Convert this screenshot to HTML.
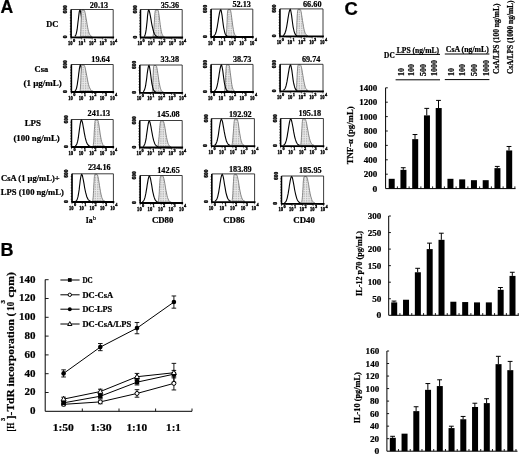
<!DOCTYPE html>
<html><head><meta charset="utf-8"><style>
html,body{margin:0;padding:0;background:#fff;}
svg{display:block;filter:grayscale(1);}
text{stroke:#000;stroke-width:0.22px;}
text.sm{stroke-width:0.38px;}
</style></head><body>
<svg width="520" height="456" viewBox="0 0 520 456">
<defs><pattern id="gp" patternUnits="userSpaceOnUse" width="1.7" height="2.3"><rect width="1.7" height="2.3" fill="#e9e9e9"/><rect x="0" y="0" width="0.7" height="1.5" fill="#aaaaaa"/></pattern></defs>
<rect width="520" height="456" fill="#fff"/>
<text x="0.6" y="13.2" font-family='"Liberation Sans", sans-serif' font-weight="bold" font-size="17.6" >A</text>
<text x="0.6" y="256" font-family='"Liberation Sans", sans-serif' font-weight="bold" font-size="18">B</text>
<text x="344.6" y="14.6" font-family='"Liberation Sans", sans-serif' font-weight="bold" font-size="18.4">C</text>
<path d="M74.8,36.3 L75.1,36.1 L75.4,35.7 L75.8,35.1 L76.1,34.2 L76.4,33.1 L76.7,31.6 L77.1,29.7 L77.4,27.4 L77.7,24.8 L78.0,22.0 L78.4,19.0 L78.7,16.2 L79.0,13.7 L79.3,11.7 L79.7,10.4 L80.0,10.0 L80.0,10.0 L80.4,11.0 L80.8,13.2 L81.3,16.1 L81.7,19.3 L82.1,22.5 L82.5,25.5 L82.9,28.1 L83.4,30.3 L83.8,32.1 L84.2,33.5 L84.6,34.5 L85.0,35.2 L85.5,35.8 L85.9,36.1 L86.3,36.3 L86.7,36.5" fill="none" stroke="#000" stroke-width="1.1"/>
<path d="M80.2,36.4 L80.4,36.1 L80.5,35.5 L80.6,34.6 L80.7,33.2 L80.8,31.3 L80.9,28.9 L81.0,26.0 L81.1,22.8 L81.2,19.7 L81.3,16.8 L81.5,14.3 L81.6,12.4 L81.7,11.1 L81.8,10.4 L81.9,10.1 L82.0,10.0 L84.0,10.0 L84.5,10.7 L85.0,12.4 L85.5,15.0 L86.0,18.0 L86.6,21.2 L87.1,24.3 L87.6,27.2 L88.1,29.6 L88.6,31.6 L89.1,33.2 L89.6,34.3 L90.1,35.2 L90.6,35.7 L91.1,36.1 L91.7,36.4 L92.2,36.5 Z" fill="url(#gp)" stroke="#7a7a7a" stroke-width="0.9"/>
<path d="M71.1,37.3 V9.5 H113.2 V37.3" fill="none" stroke="#1a1a1a" stroke-width="0.85"/>
<line x1="70.5" y1="37.3" x2="114.1" y2="37.3" stroke="#000" stroke-width="1.8"/>
<line x1="71.1" y1="9.5" x2="71.1" y2="37.3" stroke="#000" stroke-width="1.5"/>
<path d="M74.3,37.3 v1 M76.1,37.3 v1 M77.4,37.3 v1 M78.5,37.3 v1 M79.3,37.3 v1 M80.0,37.3 v1 M80.6,37.3 v1 M81.1,37.3 v1 M84.8,37.3 v1 M86.6,37.3 v1 M88.0,37.3 v1 M89.0,37.3 v1 M89.8,37.3 v1 M90.5,37.3 v1 M91.1,37.3 v1 M91.7,37.3 v1 M95.3,37.3 v1 M97.2,37.3 v1 M98.5,37.3 v1 M99.5,37.3 v1 M100.3,37.3 v1 M101.0,37.3 v1 M101.7,37.3 v1 M102.2,37.3 v1 M105.8,37.3 v1 M107.7,37.3 v1 M109.0,37.3 v1 M110.0,37.3 v1 M110.9,37.3 v1 M111.6,37.3 v1 M112.2,37.3 v1 M112.7,37.3 v1 M71.1,37.3 v2.2 M81.6,37.3 v2.2 M92.2,37.3 v2.2 M102.7,37.3 v2.2 M113.2,37.3 v2.2" stroke="#000" stroke-width="0.6"/>
<path d="M71.1,34.5 h-1.3 M71.1,31.7 h-1.3 M71.1,29.0 h-1.3 M71.1,26.2 h-1.3 M71.1,23.4 h-1.3 M71.1,20.6 h-1.3 M71.1,17.8 h-1.3 M71.1,15.1 h-1.3 M71.1,12.3 h-1.3" stroke="#000" stroke-width="0.6"/>
<text x="67.2" y="9.3" font-family='"Liberation Serif", serif' font-weight="bold" font-size="6.6" fill="#000" text-anchor="middle" textLength="8.2" lengthAdjust="spacingAndGlyphs" transform="rotate(-90 67.2 9.3)" class="sm">600</text>
<text x="67.1" y="36.8" font-family='"Liberation Serif", serif' font-weight="bold" font-size="5.5" fill="#000" text-anchor="middle" transform="rotate(-90 67.1 36.8)" class="sm">0</text>
<text x="72.6" y="44.8" font-family='"Liberation Serif", serif' font-weight="bold" font-size="6.0" fill="#000" text-anchor="end" textLength="4.6" lengthAdjust="spacingAndGlyphs" class="sm">10</text>
<text x="73" y="41.5" font-family='"Liberation Serif", serif' font-weight="bold" font-size="5.0" fill="#000" textLength="2.2" lengthAdjust="spacingAndGlyphs" class="sm">0</text>
<text x="83.12" y="44.8" font-family='"Liberation Serif", serif' font-weight="bold" font-size="6.0" fill="#000" text-anchor="end" textLength="4.6" lengthAdjust="spacingAndGlyphs" class="sm">10</text>
<text x="83.53" y="41.5" font-family='"Liberation Serif", serif' font-weight="bold" font-size="5.0" fill="#000" textLength="2.2" lengthAdjust="spacingAndGlyphs" class="sm">1</text>
<text x="93.65" y="44.8" font-family='"Liberation Serif", serif' font-weight="bold" font-size="6.0" fill="#000" text-anchor="end" textLength="4.6" lengthAdjust="spacingAndGlyphs" class="sm">10</text>
<text x="94.05" y="41.5" font-family='"Liberation Serif", serif' font-weight="bold" font-size="5.0" fill="#000" textLength="2.2" lengthAdjust="spacingAndGlyphs" class="sm">2</text>
<text x="104.17" y="44.8" font-family='"Liberation Serif", serif' font-weight="bold" font-size="6.0" fill="#000" text-anchor="end" textLength="4.6" lengthAdjust="spacingAndGlyphs" class="sm">10</text>
<text x="104.58" y="41.5" font-family='"Liberation Serif", serif' font-weight="bold" font-size="5.0" fill="#000" textLength="2.2" lengthAdjust="spacingAndGlyphs" class="sm">3</text>
<text x="114.7" y="44.8" font-family='"Liberation Serif", serif' font-weight="bold" font-size="6.0" fill="#000" text-anchor="end" textLength="4.6" lengthAdjust="spacingAndGlyphs" class="sm">10</text>
<text x="115.1" y="41.5" font-family='"Liberation Serif", serif' font-weight="bold" font-size="5.0" fill="#000" textLength="2.2" lengthAdjust="spacingAndGlyphs" class="sm">4</text>
<text x="108.2" y="7.5" font-family='"Liberation Serif", serif' font-weight="bold" font-size="9.0" fill="#000" text-anchor="end" textLength="18.5" lengthAdjust="spacingAndGlyphs" >20.13</text>
<path d="M152.7,36.6 L152.9,36.3 L153.1,35.7 L153.3,34.8 L153.5,33.4 L153.7,31.5 L153.9,29.0 L154.1,26.1 L154.3,22.9 L154.5,19.8 L154.6,16.8 L154.8,14.3 L155.0,12.4 L155.2,11.1 L155.4,10.4 L155.6,10.1 L155.8,10.0 L157.8,10.0 L158.2,10.7 L158.6,12.4 L159.0,15.0 L159.4,18.0 L159.8,21.3 L160.2,24.4 L160.6,27.3 L161.0,29.8 L161.4,31.8 L161.8,33.4 L162.3,34.5 L162.7,35.4 L163.1,35.9 L163.5,36.3 L163.9,36.6 L164.3,36.7 Z" fill="url(#gp)" stroke="#7a7a7a" stroke-width="0.9"/>
<path d="M144.1,36.5 L144.4,36.2 L144.7,35.8 L144.9,35.3 L145.2,34.4 L145.5,33.3 L145.8,31.8 L146.1,29.9 L146.4,27.6 L146.7,24.9 L147.0,22.1 L147.3,19.1 L147.5,16.3 L147.8,13.7 L148.1,11.7 L148.4,10.4 L148.7,10.0 L148.7,10.0 L149.3,11.0 L149.8,13.2 L150.4,16.1 L151.0,19.3 L151.5,22.6 L152.1,25.6 L152.7,28.2 L153.3,30.5 L153.8,32.3 L154.4,33.7 L155.0,34.7 L155.5,35.4 L156.1,36.0 L156.7,36.3 L157.2,36.5 L157.8,36.7" fill="none" stroke="#000" stroke-width="1.1"/>
<path d="M140.5,37.5 V9.5 H182.2 V37.5" fill="none" stroke="#1a1a1a" stroke-width="0.85"/>
<line x1="139.9" y1="37.5" x2="183.1" y2="37.5" stroke="#000" stroke-width="1.8"/>
<line x1="140.5" y1="9.5" x2="140.5" y2="37.5" stroke="#000" stroke-width="1.5"/>
<path d="M143.6,37.5 v1 M145.5,37.5 v1 M146.8,37.5 v1 M147.8,37.5 v1 M148.6,37.5 v1 M149.3,37.5 v1 M149.9,37.5 v1 M150.4,37.5 v1 M154.1,37.5 v1 M155.9,37.5 v1 M157.2,37.5 v1 M158.2,37.5 v1 M159.0,37.5 v1 M159.7,37.5 v1 M160.3,37.5 v1 M160.9,37.5 v1 M164.5,37.5 v1 M166.3,37.5 v1 M167.6,37.5 v1 M168.6,37.5 v1 M169.5,37.5 v1 M170.2,37.5 v1 M170.8,37.5 v1 M171.3,37.5 v1 M174.9,37.5 v1 M176.7,37.5 v1 M178.1,37.5 v1 M179.1,37.5 v1 M179.9,37.5 v1 M180.6,37.5 v1 M181.2,37.5 v1 M181.7,37.5 v1 M140.5,37.5 v2.2 M150.9,37.5 v2.2 M161.3,37.5 v2.2 M171.8,37.5 v2.2 M182.2,37.5 v2.2" stroke="#000" stroke-width="0.6"/>
<path d="M140.5,34.7 h-1.3 M140.5,31.9 h-1.3 M140.5,29.1 h-1.3 M140.5,26.3 h-1.3 M140.5,23.5 h-1.3 M140.5,20.7 h-1.3 M140.5,17.9 h-1.3 M140.5,15.1 h-1.3 M140.5,12.3 h-1.3" stroke="#000" stroke-width="0.6"/>
<text x="136.6" y="9.3" font-family='"Liberation Serif", serif' font-weight="bold" font-size="6.6" fill="#000" text-anchor="middle" textLength="8.2" lengthAdjust="spacingAndGlyphs" transform="rotate(-90 136.6 9.3)" class="sm">600</text>
<text x="136.5" y="37" font-family='"Liberation Serif", serif' font-weight="bold" font-size="5.5" fill="#000" text-anchor="middle" transform="rotate(-90 136.5 37)" class="sm">0</text>
<text x="142" y="45" font-family='"Liberation Serif", serif' font-weight="bold" font-size="6.0" fill="#000" text-anchor="end" textLength="4.6" lengthAdjust="spacingAndGlyphs" class="sm">10</text>
<text x="142.4" y="41.7" font-family='"Liberation Serif", serif' font-weight="bold" font-size="5.0" fill="#000" textLength="2.2" lengthAdjust="spacingAndGlyphs" class="sm">0</text>
<text x="152.43" y="45" font-family='"Liberation Serif", serif' font-weight="bold" font-size="6.0" fill="#000" text-anchor="end" textLength="4.6" lengthAdjust="spacingAndGlyphs" class="sm">10</text>
<text x="152.83" y="41.7" font-family='"Liberation Serif", serif' font-weight="bold" font-size="5.0" fill="#000" textLength="2.2" lengthAdjust="spacingAndGlyphs" class="sm">1</text>
<text x="162.85" y="45" font-family='"Liberation Serif", serif' font-weight="bold" font-size="6.0" fill="#000" text-anchor="end" textLength="4.6" lengthAdjust="spacingAndGlyphs" class="sm">10</text>
<text x="163.25" y="41.7" font-family='"Liberation Serif", serif' font-weight="bold" font-size="5.0" fill="#000" textLength="2.2" lengthAdjust="spacingAndGlyphs" class="sm">2</text>
<text x="173.27" y="45" font-family='"Liberation Serif", serif' font-weight="bold" font-size="6.0" fill="#000" text-anchor="end" textLength="4.6" lengthAdjust="spacingAndGlyphs" class="sm">10</text>
<text x="173.67" y="41.7" font-family='"Liberation Serif", serif' font-weight="bold" font-size="5.0" fill="#000" textLength="2.2" lengthAdjust="spacingAndGlyphs" class="sm">3</text>
<text x="183.7" y="45" font-family='"Liberation Serif", serif' font-weight="bold" font-size="6.0" fill="#000" text-anchor="end" textLength="4.6" lengthAdjust="spacingAndGlyphs" class="sm">10</text>
<text x="184.1" y="41.7" font-family='"Liberation Serif", serif' font-weight="bold" font-size="5.0" fill="#000" textLength="2.2" lengthAdjust="spacingAndGlyphs" class="sm">4</text>
<text x="179.2" y="7.5" font-family='"Liberation Serif", serif' font-weight="bold" font-size="9.0" fill="#000" text-anchor="end" textLength="18.5" lengthAdjust="spacingAndGlyphs" >35.36</text>
<path d="M226.0,36.1 L226.1,35.8 L226.3,35.2 L226.4,34.3 L226.5,32.9 L226.7,31.0 L226.8,28.5 L226.9,25.6 L227.1,22.5 L227.2,19.3 L227.3,16.4 L227.4,13.9 L227.6,12.0 L227.7,10.7 L227.8,10.0 L228.0,9.7 L228.1,9.6 L230.1,9.6 L230.5,10.3 L230.9,12.0 L231.3,14.6 L231.7,17.6 L232.1,20.8 L232.5,24.0 L232.9,26.8 L233.3,29.3 L233.7,31.3 L234.1,32.9 L234.5,34.0 L234.9,34.9 L235.3,35.4 L235.7,35.8 L236.1,36.1 L236.5,36.2 Z" fill="url(#gp)" stroke="#7a7a7a" stroke-width="0.9"/>
<path d="M213.5,36.0 L214.0,35.8 L214.4,35.4 L214.9,34.8 L215.4,33.9 L215.8,32.8 L216.3,31.3 L216.7,29.4 L217.2,27.1 L217.6,24.5 L218.1,21.6 L218.5,18.7 L219.0,15.8 L219.4,13.3 L219.9,11.3 L220.3,10.0 L220.8,9.6 L220.8,9.6 L221.2,10.6 L221.6,12.8 L222.1,15.7 L222.5,18.9 L222.9,22.1 L223.3,25.1 L223.7,27.8 L224.2,30.0 L224.6,31.8 L225.0,33.2 L225.4,34.2 L225.8,34.9 L226.3,35.5 L226.7,35.8 L227.1,36.0 L227.5,36.2" fill="none" stroke="#000" stroke-width="1.1"/>
<path d="M211.1,37 V9.1 H252.8 V37" fill="none" stroke="#1a1a1a" stroke-width="0.85"/>
<line x1="210.5" y1="37" x2="253.7" y2="37" stroke="#000" stroke-width="1.8"/>
<line x1="211.1" y1="9.1" x2="211.1" y2="37" stroke="#000" stroke-width="1.5"/>
<path d="M214.2,37 v1 M216.1,37 v1 M217.4,37 v1 M218.4,37 v1 M219.2,37 v1 M219.9,37 v1 M220.5,37 v1 M221.0,37 v1 M224.7,37 v1 M226.5,37 v1 M227.8,37 v1 M228.8,37 v1 M229.6,37 v1 M230.3,37 v1 M230.9,37 v1 M231.5,37 v1 M235.1,37 v1 M236.9,37 v1 M238.2,37 v1 M239.2,37 v1 M240.1,37 v1 M240.8,37 v1 M241.4,37 v1 M241.9,37 v1 M245.5,37 v1 M247.3,37 v1 M248.7,37 v1 M249.7,37 v1 M250.5,37 v1 M251.2,37 v1 M251.8,37 v1 M252.3,37 v1 M211.1,37 v2.2 M221.5,37 v2.2 M231.9,37 v2.2 M242.4,37 v2.2 M252.8,37 v2.2" stroke="#000" stroke-width="0.6"/>
<path d="M211.1,34.2 h-1.3 M211.1,31.4 h-1.3 M211.1,28.6 h-1.3 M211.1,25.8 h-1.3 M211.1,23.1 h-1.3 M211.1,20.3 h-1.3 M211.1,17.5 h-1.3 M211.1,14.7 h-1.3 M211.1,11.9 h-1.3" stroke="#000" stroke-width="0.6"/>
<text x="207.2" y="8.9" font-family='"Liberation Serif", serif' font-weight="bold" font-size="6.6" fill="#000" text-anchor="middle" textLength="8.2" lengthAdjust="spacingAndGlyphs" transform="rotate(-90 207.2 8.9)" class="sm">600</text>
<text x="207.1" y="36.5" font-family='"Liberation Serif", serif' font-weight="bold" font-size="5.5" fill="#000" text-anchor="middle" transform="rotate(-90 207.1 36.5)" class="sm">0</text>
<text x="212.6" y="44.5" font-family='"Liberation Serif", serif' font-weight="bold" font-size="6.0" fill="#000" text-anchor="end" textLength="4.6" lengthAdjust="spacingAndGlyphs" class="sm">10</text>
<text x="213" y="41.2" font-family='"Liberation Serif", serif' font-weight="bold" font-size="5.0" fill="#000" textLength="2.2" lengthAdjust="spacingAndGlyphs" class="sm">0</text>
<text x="223.03" y="44.5" font-family='"Liberation Serif", serif' font-weight="bold" font-size="6.0" fill="#000" text-anchor="end" textLength="4.6" lengthAdjust="spacingAndGlyphs" class="sm">10</text>
<text x="223.43" y="41.2" font-family='"Liberation Serif", serif' font-weight="bold" font-size="5.0" fill="#000" textLength="2.2" lengthAdjust="spacingAndGlyphs" class="sm">1</text>
<text x="233.45" y="44.5" font-family='"Liberation Serif", serif' font-weight="bold" font-size="6.0" fill="#000" text-anchor="end" textLength="4.6" lengthAdjust="spacingAndGlyphs" class="sm">10</text>
<text x="233.85" y="41.2" font-family='"Liberation Serif", serif' font-weight="bold" font-size="5.0" fill="#000" textLength="2.2" lengthAdjust="spacingAndGlyphs" class="sm">2</text>
<text x="243.88" y="44.5" font-family='"Liberation Serif", serif' font-weight="bold" font-size="6.0" fill="#000" text-anchor="end" textLength="4.6" lengthAdjust="spacingAndGlyphs" class="sm">10</text>
<text x="244.28" y="41.2" font-family='"Liberation Serif", serif' font-weight="bold" font-size="5.0" fill="#000" textLength="2.2" lengthAdjust="spacingAndGlyphs" class="sm">3</text>
<text x="254.3" y="44.5" font-family='"Liberation Serif", serif' font-weight="bold" font-size="6.0" fill="#000" text-anchor="end" textLength="4.6" lengthAdjust="spacingAndGlyphs" class="sm">10</text>
<text x="254.7" y="41.2" font-family='"Liberation Serif", serif' font-weight="bold" font-size="5.0" fill="#000" textLength="2.2" lengthAdjust="spacingAndGlyphs" class="sm">4</text>
<text x="250.9" y="7.1" font-family='"Liberation Serif", serif' font-weight="bold" font-size="9.0" fill="#000" text-anchor="end" textLength="18.5" lengthAdjust="spacingAndGlyphs" >52.13</text>
<path d="M295.8,35.5 L295.9,35.2 L296.1,34.7 L296.2,33.7 L296.4,32.4 L296.5,30.5 L296.7,28.1 L296.8,25.2 L296.9,22.1 L297.1,19.0 L297.2,16.1 L297.4,13.7 L297.5,11.8 L297.7,10.5 L297.8,9.8 L298.0,9.5 L298.1,9.4 L300.1,9.4 L300.6,10.1 L301.1,11.8 L301.5,14.3 L302.0,17.3 L302.5,20.5 L303.0,23.5 L303.5,26.4 L303.9,28.8 L304.4,30.8 L304.9,32.3 L305.4,33.5 L305.9,34.3 L306.3,34.9 L306.8,35.2 L307.3,35.5 L307.8,35.6 Z" fill="url(#gp)" stroke="#7a7a7a" stroke-width="0.9"/>
<path d="M283.0,35.4 L283.5,35.2 L283.9,34.8 L284.4,34.2 L284.9,33.4 L285.3,32.2 L285.8,30.8 L286.2,28.9 L286.7,26.6 L287.1,24.1 L287.6,21.2 L288.0,18.3 L288.5,15.5 L288.9,13.1 L289.4,11.1 L289.8,9.8 L290.3,9.4 L290.3,9.4 L290.7,10.4 L291.1,12.5 L291.6,15.4 L292.0,18.6 L292.4,21.7 L292.8,24.7 L293.2,27.3 L293.7,29.5 L294.1,31.3 L294.5,32.6 L294.9,33.6 L295.3,34.4 L295.8,34.9 L296.2,35.2 L296.6,35.4 L297.0,35.6" fill="none" stroke="#000" stroke-width="1.1"/>
<path d="M279.9,36.4 V8.9 H323 V36.4" fill="none" stroke="#1a1a1a" stroke-width="0.85"/>
<line x1="279.3" y1="36.4" x2="323.9" y2="36.4" stroke="#000" stroke-width="1.8"/>
<line x1="279.9" y1="8.9" x2="279.9" y2="36.4" stroke="#000" stroke-width="1.5"/>
<path d="M283.1,36.4 v1 M285.0,36.4 v1 M286.4,36.4 v1 M287.4,36.4 v1 M288.3,36.4 v1 M289.0,36.4 v1 M289.6,36.4 v1 M290.2,36.4 v1 M293.9,36.4 v1 M295.8,36.4 v1 M297.2,36.4 v1 M298.2,36.4 v1 M299.1,36.4 v1 M299.8,36.4 v1 M300.4,36.4 v1 M301.0,36.4 v1 M304.7,36.4 v1 M306.6,36.4 v1 M307.9,36.4 v1 M309.0,36.4 v1 M309.8,36.4 v1 M310.6,36.4 v1 M311.2,36.4 v1 M311.7,36.4 v1 M315.5,36.4 v1 M317.4,36.4 v1 M318.7,36.4 v1 M319.8,36.4 v1 M320.6,36.4 v1 M321.3,36.4 v1 M322.0,36.4 v1 M322.5,36.4 v1 M279.9,36.4 v2.2 M290.7,36.4 v2.2 M301.4,36.4 v2.2 M312.2,36.4 v2.2 M323.0,36.4 v2.2" stroke="#000" stroke-width="0.6"/>
<path d="M279.9,33.6 h-1.3 M279.9,30.9 h-1.3 M279.9,28.1 h-1.3 M279.9,25.4 h-1.3 M279.9,22.6 h-1.3 M279.9,19.9 h-1.3 M279.9,17.1 h-1.3 M279.9,14.4 h-1.3 M279.9,11.6 h-1.3" stroke="#000" stroke-width="0.6"/>
<text x="276" y="8.7" font-family='"Liberation Serif", serif' font-weight="bold" font-size="6.6" fill="#000" text-anchor="middle" textLength="8.2" lengthAdjust="spacingAndGlyphs" transform="rotate(-90 276 8.7)" class="sm">600</text>
<text x="275.9" y="35.9" font-family='"Liberation Serif", serif' font-weight="bold" font-size="5.5" fill="#000" text-anchor="middle" transform="rotate(-90 275.9 35.9)" class="sm">0</text>
<text x="281.4" y="43.9" font-family='"Liberation Serif", serif' font-weight="bold" font-size="6.0" fill="#000" text-anchor="end" textLength="4.6" lengthAdjust="spacingAndGlyphs" class="sm">10</text>
<text x="281.8" y="40.6" font-family='"Liberation Serif", serif' font-weight="bold" font-size="5.0" fill="#000" textLength="2.2" lengthAdjust="spacingAndGlyphs" class="sm">0</text>
<text x="292.17" y="43.9" font-family='"Liberation Serif", serif' font-weight="bold" font-size="6.0" fill="#000" text-anchor="end" textLength="4.6" lengthAdjust="spacingAndGlyphs" class="sm">10</text>
<text x="292.57" y="40.6" font-family='"Liberation Serif", serif' font-weight="bold" font-size="5.0" fill="#000" textLength="2.2" lengthAdjust="spacingAndGlyphs" class="sm">1</text>
<text x="302.95" y="43.9" font-family='"Liberation Serif", serif' font-weight="bold" font-size="6.0" fill="#000" text-anchor="end" textLength="4.6" lengthAdjust="spacingAndGlyphs" class="sm">10</text>
<text x="303.35" y="40.6" font-family='"Liberation Serif", serif' font-weight="bold" font-size="5.0" fill="#000" textLength="2.2" lengthAdjust="spacingAndGlyphs" class="sm">2</text>
<text x="313.73" y="43.9" font-family='"Liberation Serif", serif' font-weight="bold" font-size="6.0" fill="#000" text-anchor="end" textLength="4.6" lengthAdjust="spacingAndGlyphs" class="sm">10</text>
<text x="314.12" y="40.6" font-family='"Liberation Serif", serif' font-weight="bold" font-size="5.0" fill="#000" textLength="2.2" lengthAdjust="spacingAndGlyphs" class="sm">3</text>
<text x="324.5" y="43.9" font-family='"Liberation Serif", serif' font-weight="bold" font-size="6.0" fill="#000" text-anchor="end" textLength="4.6" lengthAdjust="spacingAndGlyphs" class="sm">10</text>
<text x="324.9" y="40.6" font-family='"Liberation Serif", serif' font-weight="bold" font-size="5.0" fill="#000" textLength="2.2" lengthAdjust="spacingAndGlyphs" class="sm">4</text>
<text x="321.5" y="7.1" font-family='"Liberation Serif", serif' font-weight="bold" font-size="9.0" fill="#000" text-anchor="end" textLength="18.5" lengthAdjust="spacingAndGlyphs" >66.60</text>
<path d="M74.8,91.0 L75.2,90.8 L75.5,90.4 L75.9,89.8 L76.2,89.0 L76.6,87.8 L76.9,86.4 L77.3,84.5 L77.6,82.2 L78.0,79.7 L78.4,76.8 L78.7,73.9 L79.1,71.1 L79.4,68.7 L79.8,66.7 L80.1,65.4 L80.5,65.0 L80.5,65.0 L80.9,66.0 L81.3,68.1 L81.8,71.0 L82.2,74.2 L82.6,77.3 L83.0,80.3 L83.4,82.9 L83.9,85.1 L84.3,86.9 L84.7,88.2 L85.1,89.2 L85.5,90.0 L86.0,90.5 L86.4,90.8 L86.8,91.0 L87.2,91.2" fill="none" stroke="#000" stroke-width="1.1"/>
<path d="M79.9,91.1 L80.0,90.8 L80.2,90.3 L80.3,89.3 L80.4,88.0 L80.5,86.1 L80.7,83.7 L80.8,80.8 L80.9,77.7 L81.0,74.6 L81.2,71.7 L81.3,69.3 L81.4,67.4 L81.5,66.1 L81.7,65.4 L81.8,65.1 L81.9,65.0 L83.9,65.0 L84.5,65.7 L85.1,67.4 L85.6,69.9 L86.2,72.9 L86.8,76.1 L87.4,79.1 L87.9,82.0 L88.5,84.4 L89.1,86.4 L89.7,87.9 L90.3,89.1 L90.8,89.9 L91.4,90.5 L92.0,90.8 L92.6,91.1 L93.1,91.2 Z" fill="url(#gp)" stroke="#7a7a7a" stroke-width="0.9"/>
<path d="M71.4,92 V64.5 H113.2 V92" fill="none" stroke="#1a1a1a" stroke-width="0.85"/>
<line x1="70.8" y1="92" x2="114.1" y2="92" stroke="#000" stroke-width="1.8"/>
<line x1="71.4" y1="64.5" x2="71.4" y2="92" stroke="#000" stroke-width="1.5"/>
<path d="M74.5,92 v1 M76.4,92 v1 M77.7,92 v1 M78.7,92 v1 M79.5,92 v1 M80.2,92 v1 M80.8,92 v1 M81.4,92 v1 M85.0,92 v1 M86.8,92 v1 M88.1,92 v1 M89.2,92 v1 M90.0,92 v1 M90.7,92 v1 M91.3,92 v1 M91.8,92 v1 M95.4,92 v1 M97.3,92 v1 M98.6,92 v1 M99.6,92 v1 M100.4,92 v1 M101.1,92 v1 M101.7,92 v1 M102.3,92 v1 M105.9,92 v1 M107.7,92 v1 M109.0,92 v1 M110.1,92 v1 M110.9,92 v1 M111.6,92 v1 M112.2,92 v1 M112.7,92 v1 M71.4,92 v2.2 M81.9,92 v2.2 M92.3,92 v2.2 M102.8,92 v2.2 M113.2,92 v2.2" stroke="#000" stroke-width="0.6"/>
<path d="M71.4,89.2 h-1.3 M71.4,86.5 h-1.3 M71.4,83.8 h-1.3 M71.4,81.0 h-1.3 M71.4,78.2 h-1.3 M71.4,75.5 h-1.3 M71.4,72.8 h-1.3 M71.4,70.0 h-1.3 M71.4,67.2 h-1.3" stroke="#000" stroke-width="0.6"/>
<text x="67.5" y="64.3" font-family='"Liberation Serif", serif' font-weight="bold" font-size="6.6" fill="#000" text-anchor="middle" textLength="8.2" lengthAdjust="spacingAndGlyphs" transform="rotate(-90 67.5 64.3)" class="sm">600</text>
<text x="67.4" y="91.5" font-family='"Liberation Serif", serif' font-weight="bold" font-size="5.5" fill="#000" text-anchor="middle" transform="rotate(-90 67.4 91.5)" class="sm">0</text>
<text x="72.9" y="99.5" font-family='"Liberation Serif", serif' font-weight="bold" font-size="6.0" fill="#000" text-anchor="end" textLength="4.6" lengthAdjust="spacingAndGlyphs" class="sm">10</text>
<text x="73.3" y="96.2" font-family='"Liberation Serif", serif' font-weight="bold" font-size="5.0" fill="#000" textLength="2.2" lengthAdjust="spacingAndGlyphs" class="sm">0</text>
<text x="83.35" y="99.5" font-family='"Liberation Serif", serif' font-weight="bold" font-size="6.0" fill="#000" text-anchor="end" textLength="4.6" lengthAdjust="spacingAndGlyphs" class="sm">10</text>
<text x="83.75" y="96.2" font-family='"Liberation Serif", serif' font-weight="bold" font-size="5.0" fill="#000" textLength="2.2" lengthAdjust="spacingAndGlyphs" class="sm">1</text>
<text x="93.8" y="99.5" font-family='"Liberation Serif", serif' font-weight="bold" font-size="6.0" fill="#000" text-anchor="end" textLength="4.6" lengthAdjust="spacingAndGlyphs" class="sm">10</text>
<text x="94.2" y="96.2" font-family='"Liberation Serif", serif' font-weight="bold" font-size="5.0" fill="#000" textLength="2.2" lengthAdjust="spacingAndGlyphs" class="sm">2</text>
<text x="104.25" y="99.5" font-family='"Liberation Serif", serif' font-weight="bold" font-size="6.0" fill="#000" text-anchor="end" textLength="4.6" lengthAdjust="spacingAndGlyphs" class="sm">10</text>
<text x="104.65" y="96.2" font-family='"Liberation Serif", serif' font-weight="bold" font-size="5.0" fill="#000" textLength="2.2" lengthAdjust="spacingAndGlyphs" class="sm">3</text>
<text x="114.7" y="99.5" font-family='"Liberation Serif", serif' font-weight="bold" font-size="6.0" fill="#000" text-anchor="end" textLength="4.6" lengthAdjust="spacingAndGlyphs" class="sm">10</text>
<text x="115.1" y="96.2" font-family='"Liberation Serif", serif' font-weight="bold" font-size="5.0" fill="#000" textLength="2.2" lengthAdjust="spacingAndGlyphs" class="sm">4</text>
<text x="109.8" y="61.6" font-family='"Liberation Serif", serif' font-weight="bold" font-size="9.0" fill="#000" text-anchor="end" textLength="18.5" lengthAdjust="spacingAndGlyphs" >19.64</text>
<path d="M152.1,91.9 L152.2,91.6 L152.4,91.0 L152.5,90.1 L152.6,88.7 L152.7,86.8 L152.8,84.4 L152.9,81.5 L153.1,78.3 L153.2,75.2 L153.3,72.3 L153.4,69.8 L153.5,67.9 L153.6,66.6 L153.8,65.9 L153.9,65.6 L154.0,65.5 L156.0,65.5 L156.5,66.2 L156.9,67.9 L157.4,70.5 L157.8,73.5 L158.3,76.7 L158.7,79.8 L159.2,82.7 L159.7,85.1 L160.1,87.1 L160.6,88.7 L161.0,89.8 L161.5,90.7 L161.9,91.2 L162.4,91.6 L162.9,91.9 L163.3,92.0 Z" fill="url(#gp)" stroke="#7a7a7a" stroke-width="0.9"/>
<path d="M143.1,91.8 L143.4,91.6 L143.8,91.2 L144.2,90.6 L144.5,89.7 L144.9,88.6 L145.3,87.1 L145.7,85.2 L146.0,82.9 L146.4,80.3 L146.8,77.5 L147.1,74.5 L147.5,71.7 L147.9,69.2 L148.3,67.2 L148.6,65.9 L149.0,65.5 L149.0,65.5 L149.4,66.5 L149.8,68.7 L150.3,71.6 L150.7,74.8 L151.1,78.0 L151.5,81.0 L151.9,83.6 L152.4,85.8 L152.8,87.6 L153.2,89.0 L153.6,90.0 L154.0,90.7 L154.5,91.3 L154.9,91.6 L155.3,91.8 L155.7,92.0" fill="none" stroke="#000" stroke-width="1.1"/>
<path d="M139.8,92.8 V65 H182.2 V92.8" fill="none" stroke="#1a1a1a" stroke-width="0.85"/>
<line x1="139.2" y1="92.8" x2="183.1" y2="92.8" stroke="#000" stroke-width="1.8"/>
<line x1="139.8" y1="65" x2="139.8" y2="92.8" stroke="#000" stroke-width="1.5"/>
<path d="M143.0,92.8 v1 M144.9,92.8 v1 M146.2,92.8 v1 M147.2,92.8 v1 M148.0,92.8 v1 M148.8,92.8 v1 M149.4,92.8 v1 M149.9,92.8 v1 M153.6,92.8 v1 M155.5,92.8 v1 M156.8,92.8 v1 M157.8,92.8 v1 M158.6,92.8 v1 M159.4,92.8 v1 M160.0,92.8 v1 M160.5,92.8 v1 M164.2,92.8 v1 M166.1,92.8 v1 M167.4,92.8 v1 M168.4,92.8 v1 M169.2,92.8 v1 M170.0,92.8 v1 M170.6,92.8 v1 M171.1,92.8 v1 M174.8,92.8 v1 M176.7,92.8 v1 M178.0,92.8 v1 M179.0,92.8 v1 M179.8,92.8 v1 M180.6,92.8 v1 M181.2,92.8 v1 M181.7,92.8 v1 M139.8,92.8 v2.2 M150.4,92.8 v2.2 M161.0,92.8 v2.2 M171.6,92.8 v2.2 M182.2,92.8 v2.2" stroke="#000" stroke-width="0.6"/>
<path d="M139.8,90.0 h-1.3 M139.8,87.2 h-1.3 M139.8,84.5 h-1.3 M139.8,81.7 h-1.3 M139.8,78.9 h-1.3 M139.8,76.1 h-1.3 M139.8,73.3 h-1.3 M139.8,70.6 h-1.3 M139.8,67.8 h-1.3" stroke="#000" stroke-width="0.6"/>
<text x="135.9" y="64.8" font-family='"Liberation Serif", serif' font-weight="bold" font-size="6.6" fill="#000" text-anchor="middle" textLength="8.2" lengthAdjust="spacingAndGlyphs" transform="rotate(-90 135.9 64.8)" class="sm">600</text>
<text x="135.8" y="92.3" font-family='"Liberation Serif", serif' font-weight="bold" font-size="5.5" fill="#000" text-anchor="middle" transform="rotate(-90 135.8 92.3)" class="sm">0</text>
<text x="141.3" y="100.3" font-family='"Liberation Serif", serif' font-weight="bold" font-size="6.0" fill="#000" text-anchor="end" textLength="4.6" lengthAdjust="spacingAndGlyphs" class="sm">10</text>
<text x="141.7" y="97" font-family='"Liberation Serif", serif' font-weight="bold" font-size="5.0" fill="#000" textLength="2.2" lengthAdjust="spacingAndGlyphs" class="sm">0</text>
<text x="151.9" y="100.3" font-family='"Liberation Serif", serif' font-weight="bold" font-size="6.0" fill="#000" text-anchor="end" textLength="4.6" lengthAdjust="spacingAndGlyphs" class="sm">10</text>
<text x="152.3" y="97" font-family='"Liberation Serif", serif' font-weight="bold" font-size="5.0" fill="#000" textLength="2.2" lengthAdjust="spacingAndGlyphs" class="sm">1</text>
<text x="162.5" y="100.3" font-family='"Liberation Serif", serif' font-weight="bold" font-size="6.0" fill="#000" text-anchor="end" textLength="4.6" lengthAdjust="spacingAndGlyphs" class="sm">10</text>
<text x="162.9" y="97" font-family='"Liberation Serif", serif' font-weight="bold" font-size="5.0" fill="#000" textLength="2.2" lengthAdjust="spacingAndGlyphs" class="sm">2</text>
<text x="173.1" y="100.3" font-family='"Liberation Serif", serif' font-weight="bold" font-size="6.0" fill="#000" text-anchor="end" textLength="4.6" lengthAdjust="spacingAndGlyphs" class="sm">10</text>
<text x="173.5" y="97" font-family='"Liberation Serif", serif' font-weight="bold" font-size="5.0" fill="#000" textLength="2.2" lengthAdjust="spacingAndGlyphs" class="sm">3</text>
<text x="183.7" y="100.3" font-family='"Liberation Serif", serif' font-weight="bold" font-size="6.0" fill="#000" text-anchor="end" textLength="4.6" lengthAdjust="spacingAndGlyphs" class="sm">10</text>
<text x="184.1" y="97" font-family='"Liberation Serif", serif' font-weight="bold" font-size="5.0" fill="#000" textLength="2.2" lengthAdjust="spacingAndGlyphs" class="sm">4</text>
<text x="179.1" y="61.8" font-family='"Liberation Serif", serif' font-weight="bold" font-size="9.0" fill="#000" text-anchor="end" textLength="18.5" lengthAdjust="spacingAndGlyphs" >33.38</text>
<path d="M224.3,91.1 L224.4,90.8 L224.6,90.3 L224.7,89.3 L224.9,88.0 L225.1,86.1 L225.2,83.6 L225.4,80.8 L225.5,77.7 L225.7,74.5 L225.9,71.6 L226.0,69.2 L226.2,67.3 L226.3,66.0 L226.5,65.3 L226.6,65.0 L226.8,64.9 L228.8,64.9 L229.2,65.6 L229.6,67.3 L229.9,69.8 L230.3,72.8 L230.7,76.0 L231.1,79.1 L231.4,81.9 L231.8,84.4 L232.2,86.4 L232.6,87.9 L232.9,89.1 L233.3,89.9 L233.7,90.5 L234.1,90.8 L234.4,91.1 L234.8,91.2 Z" fill="url(#gp)" stroke="#7a7a7a" stroke-width="0.9"/>
<path d="M214.2,91.0 L214.7,90.8 L215.1,90.4 L215.6,89.8 L216.1,89.0 L216.5,87.8 L217.0,86.3 L217.4,84.5 L217.9,82.2 L218.3,79.6 L218.8,76.8 L219.2,73.9 L219.7,71.1 L220.1,68.6 L220.6,66.6 L221.0,65.3 L221.5,64.9 L221.5,64.9 L221.9,65.9 L222.3,68.0 L222.8,70.9 L223.2,74.1 L223.6,77.3 L224.0,80.2 L224.4,82.9 L224.9,85.1 L225.3,86.8 L225.7,88.2 L226.1,89.2 L226.5,90.0 L227.0,90.5 L227.4,90.8 L227.8,91.0 L228.2,91.2" fill="none" stroke="#000" stroke-width="1.1"/>
<path d="M211.1,92 V64.4 H253 V92" fill="none" stroke="#1a1a1a" stroke-width="0.85"/>
<line x1="210.5" y1="92" x2="253.9" y2="92" stroke="#000" stroke-width="1.8"/>
<line x1="211.1" y1="64.4" x2="211.1" y2="92" stroke="#000" stroke-width="1.5"/>
<path d="M214.3,92 v1 M216.1,92 v1 M217.4,92 v1 M218.4,92 v1 M219.3,92 v1 M220.0,92 v1 M220.6,92 v1 M221.1,92 v1 M224.7,92 v1 M226.6,92 v1 M227.9,92 v1 M228.9,92 v1 M229.7,92 v1 M230.4,92 v1 M231.0,92 v1 M231.6,92 v1 M235.2,92 v1 M237.0,92 v1 M238.4,92 v1 M239.4,92 v1 M240.2,92 v1 M240.9,92 v1 M241.5,92 v1 M242.0,92 v1 M245.7,92 v1 M247.5,92 v1 M248.8,92 v1 M249.8,92 v1 M250.7,92 v1 M251.4,92 v1 M252.0,92 v1 M252.5,92 v1 M211.1,92 v2.2 M221.6,92 v2.2 M232.1,92 v2.2 M242.5,92 v2.2 M253.0,92 v2.2" stroke="#000" stroke-width="0.6"/>
<path d="M211.1,89.2 h-1.3 M211.1,86.5 h-1.3 M211.1,83.7 h-1.3 M211.1,81.0 h-1.3 M211.1,78.2 h-1.3 M211.1,75.4 h-1.3 M211.1,72.7 h-1.3 M211.1,69.9 h-1.3 M211.1,67.2 h-1.3" stroke="#000" stroke-width="0.6"/>
<text x="207.2" y="64.2" font-family='"Liberation Serif", serif' font-weight="bold" font-size="6.6" fill="#000" text-anchor="middle" textLength="8.2" lengthAdjust="spacingAndGlyphs" transform="rotate(-90 207.2 64.2)" class="sm">600</text>
<text x="207.1" y="91.5" font-family='"Liberation Serif", serif' font-weight="bold" font-size="5.5" fill="#000" text-anchor="middle" transform="rotate(-90 207.1 91.5)" class="sm">0</text>
<text x="212.6" y="99.5" font-family='"Liberation Serif", serif' font-weight="bold" font-size="6.0" fill="#000" text-anchor="end" textLength="4.6" lengthAdjust="spacingAndGlyphs" class="sm">10</text>
<text x="213" y="96.2" font-family='"Liberation Serif", serif' font-weight="bold" font-size="5.0" fill="#000" textLength="2.2" lengthAdjust="spacingAndGlyphs" class="sm">0</text>
<text x="223.07" y="99.5" font-family='"Liberation Serif", serif' font-weight="bold" font-size="6.0" fill="#000" text-anchor="end" textLength="4.6" lengthAdjust="spacingAndGlyphs" class="sm">10</text>
<text x="223.47" y="96.2" font-family='"Liberation Serif", serif' font-weight="bold" font-size="5.0" fill="#000" textLength="2.2" lengthAdjust="spacingAndGlyphs" class="sm">1</text>
<text x="233.55" y="99.5" font-family='"Liberation Serif", serif' font-weight="bold" font-size="6.0" fill="#000" text-anchor="end" textLength="4.6" lengthAdjust="spacingAndGlyphs" class="sm">10</text>
<text x="233.95" y="96.2" font-family='"Liberation Serif", serif' font-weight="bold" font-size="5.0" fill="#000" textLength="2.2" lengthAdjust="spacingAndGlyphs" class="sm">2</text>
<text x="244.03" y="99.5" font-family='"Liberation Serif", serif' font-weight="bold" font-size="6.0" fill="#000" text-anchor="end" textLength="4.6" lengthAdjust="spacingAndGlyphs" class="sm">10</text>
<text x="244.43" y="96.2" font-family='"Liberation Serif", serif' font-weight="bold" font-size="5.0" fill="#000" textLength="2.2" lengthAdjust="spacingAndGlyphs" class="sm">3</text>
<text x="254.5" y="99.5" font-family='"Liberation Serif", serif' font-weight="bold" font-size="6.0" fill="#000" text-anchor="end" textLength="4.6" lengthAdjust="spacingAndGlyphs" class="sm">10</text>
<text x="254.9" y="96.2" font-family='"Liberation Serif", serif' font-weight="bold" font-size="5.0" fill="#000" textLength="2.2" lengthAdjust="spacingAndGlyphs" class="sm">4</text>
<text x="251.4" y="61.6" font-family='"Liberation Serif", serif' font-weight="bold" font-size="9.0" fill="#000" text-anchor="end" textLength="18.5" lengthAdjust="spacingAndGlyphs" >38.73</text>
<path d="M295.8,90.4 L295.9,90.1 L296.1,89.6 L296.3,88.7 L296.4,87.3 L296.6,85.5 L296.8,83.1 L296.9,80.3 L297.1,77.3 L297.2,74.2 L297.4,71.4 L297.6,69.0 L297.7,67.1 L297.9,65.9 L298.1,65.1 L298.2,64.9 L298.4,64.8 L300.4,64.8 L300.9,65.5 L301.4,67.2 L301.9,69.6 L302.4,72.5 L302.9,75.7 L303.4,78.7 L303.9,81.4 L304.4,83.8 L304.9,85.8 L305.3,87.3 L305.8,88.4 L306.3,89.2 L306.8,89.8 L307.3,90.1 L307.8,90.4 L308.3,90.5 Z" fill="url(#gp)" stroke="#7a7a7a" stroke-width="0.9"/>
<path d="M283.3,90.3 L283.8,90.1 L284.2,89.7 L284.7,89.1 L285.2,88.3 L285.6,87.2 L286.1,85.7 L286.5,83.9 L287.0,81.7 L287.4,79.2 L287.9,76.4 L288.3,73.6 L288.8,70.8 L289.2,68.4 L289.7,66.5 L290.1,65.2 L290.6,64.8 L290.6,64.8 L291.0,65.8 L291.4,67.9 L291.9,70.7 L292.3,73.8 L292.7,76.9 L293.1,79.8 L293.5,82.4 L294.0,84.5 L294.4,86.2 L294.8,87.6 L295.2,88.6 L295.6,89.3 L296.1,89.8 L296.5,90.1 L296.9,90.3 L297.3,90.5" fill="none" stroke="#000" stroke-width="1.1"/>
<path d="M280.1,91.3 V64.3 H323 V91.3" fill="none" stroke="#1a1a1a" stroke-width="0.85"/>
<line x1="279.5" y1="91.3" x2="323.9" y2="91.3" stroke="#000" stroke-width="1.8"/>
<line x1="280.1" y1="64.3" x2="280.1" y2="91.3" stroke="#000" stroke-width="1.5"/>
<path d="M283.3,91.3 v1 M285.2,91.3 v1 M286.6,91.3 v1 M287.6,91.3 v1 M288.4,91.3 v1 M289.2,91.3 v1 M289.8,91.3 v1 M290.3,91.3 v1 M294.1,91.3 v1 M295.9,91.3 v1 M297.3,91.3 v1 M298.3,91.3 v1 M299.2,91.3 v1 M299.9,91.3 v1 M300.5,91.3 v1 M301.1,91.3 v1 M304.8,91.3 v1 M306.7,91.3 v1 M308.0,91.3 v1 M309.0,91.3 v1 M309.9,91.3 v1 M310.6,91.3 v1 M311.2,91.3 v1 M311.8,91.3 v1 M315.5,91.3 v1 M317.4,91.3 v1 M318.7,91.3 v1 M319.8,91.3 v1 M320.6,91.3 v1 M321.3,91.3 v1 M322.0,91.3 v1 M322.5,91.3 v1 M280.1,91.3 v2.2 M290.8,91.3 v2.2 M301.6,91.3 v2.2 M312.3,91.3 v2.2 M323.0,91.3 v2.2" stroke="#000" stroke-width="0.6"/>
<path d="M280.1,88.6 h-1.3 M280.1,85.9 h-1.3 M280.1,83.2 h-1.3 M280.1,80.5 h-1.3 M280.1,77.8 h-1.3 M280.1,75.1 h-1.3 M280.1,72.4 h-1.3 M280.1,69.7 h-1.3 M280.1,67.0 h-1.3" stroke="#000" stroke-width="0.6"/>
<text x="276.2" y="64.1" font-family='"Liberation Serif", serif' font-weight="bold" font-size="6.6" fill="#000" text-anchor="middle" textLength="8.2" lengthAdjust="spacingAndGlyphs" transform="rotate(-90 276.2 64.1)" class="sm">600</text>
<text x="276.1" y="90.8" font-family='"Liberation Serif", serif' font-weight="bold" font-size="5.5" fill="#000" text-anchor="middle" transform="rotate(-90 276.1 90.8)" class="sm">0</text>
<text x="281.6" y="98.8" font-family='"Liberation Serif", serif' font-weight="bold" font-size="6.0" fill="#000" text-anchor="end" textLength="4.6" lengthAdjust="spacingAndGlyphs" class="sm">10</text>
<text x="282" y="95.5" font-family='"Liberation Serif", serif' font-weight="bold" font-size="5.0" fill="#000" textLength="2.2" lengthAdjust="spacingAndGlyphs" class="sm">0</text>
<text x="292.33" y="98.8" font-family='"Liberation Serif", serif' font-weight="bold" font-size="6.0" fill="#000" text-anchor="end" textLength="4.6" lengthAdjust="spacingAndGlyphs" class="sm">10</text>
<text x="292.73" y="95.5" font-family='"Liberation Serif", serif' font-weight="bold" font-size="5.0" fill="#000" textLength="2.2" lengthAdjust="spacingAndGlyphs" class="sm">1</text>
<text x="303.05" y="98.8" font-family='"Liberation Serif", serif' font-weight="bold" font-size="6.0" fill="#000" text-anchor="end" textLength="4.6" lengthAdjust="spacingAndGlyphs" class="sm">10</text>
<text x="303.45" y="95.5" font-family='"Liberation Serif", serif' font-weight="bold" font-size="5.0" fill="#000" textLength="2.2" lengthAdjust="spacingAndGlyphs" class="sm">2</text>
<text x="313.77" y="98.8" font-family='"Liberation Serif", serif' font-weight="bold" font-size="6.0" fill="#000" text-anchor="end" textLength="4.6" lengthAdjust="spacingAndGlyphs" class="sm">10</text>
<text x="314.17" y="95.5" font-family='"Liberation Serif", serif' font-weight="bold" font-size="5.0" fill="#000" textLength="2.2" lengthAdjust="spacingAndGlyphs" class="sm">3</text>
<text x="324.5" y="98.8" font-family='"Liberation Serif", serif' font-weight="bold" font-size="6.0" fill="#000" text-anchor="end" textLength="4.6" lengthAdjust="spacingAndGlyphs" class="sm">10</text>
<text x="324.9" y="95.5" font-family='"Liberation Serif", serif' font-weight="bold" font-size="5.0" fill="#000" textLength="2.2" lengthAdjust="spacingAndGlyphs" class="sm">4</text>
<text x="320.4" y="61.6" font-family='"Liberation Serif", serif' font-weight="bold" font-size="9.0" fill="#000" text-anchor="end" textLength="18.5" lengthAdjust="spacingAndGlyphs" >69.74</text>
<path d="M93.0,146.1 L93.1,145.8 L93.3,145.3 L93.4,144.3 L93.6,143.0 L93.8,141.1 L93.9,138.7 L94.1,135.8 L94.2,132.7 L94.4,129.6 L94.6,126.7 L94.7,124.3 L94.9,122.4 L95.0,121.1 L95.2,120.4 L95.3,120.1 L95.5,120.0 L97.5,120.0 L98.0,120.7 L98.4,122.4 L98.9,124.9 L99.3,127.9 L99.8,131.1 L100.2,134.1 L100.7,137.0 L101.2,139.4 L101.6,141.4 L102.1,142.9 L102.5,144.1 L103.0,144.9 L103.4,145.5 L103.9,145.8 L104.4,146.1 L104.8,146.2 Z" fill="url(#gp)" stroke="#7a7a7a" stroke-width="0.9"/>
<path d="M75.2,146.0 L75.6,145.8 L76.0,145.4 L76.4,144.8 L76.8,144.0 L77.2,142.8 L77.6,141.4 L78.0,139.5 L78.4,137.2 L78.7,134.7 L79.1,131.8 L79.5,128.9 L79.9,126.1 L80.3,123.7 L80.7,121.7 L81.1,120.4 L81.5,120.0 L81.5,120.0 L82.0,121.0 L82.6,123.1 L83.1,126.0 L83.7,129.2 L84.2,132.3 L84.8,135.3 L85.3,137.9 L85.9,140.1 L86.4,141.9 L87.0,143.2 L87.5,144.2 L88.1,145.0 L88.6,145.5 L89.2,145.8 L89.7,146.0 L90.3,146.2" fill="none" stroke="#000" stroke-width="1.1"/>
<path d="M71.5,147 V119.5 H113.2 V147" fill="none" stroke="#1a1a1a" stroke-width="0.85"/>
<line x1="70.9" y1="147" x2="114.1" y2="147" stroke="#000" stroke-width="1.8"/>
<line x1="71.5" y1="119.5" x2="71.5" y2="147" stroke="#000" stroke-width="1.5"/>
<path d="M74.6,147 v1 M76.5,147 v1 M77.8,147 v1 M78.8,147 v1 M79.6,147 v1 M80.3,147 v1 M80.9,147 v1 M81.4,147 v1 M85.1,147 v1 M86.9,147 v1 M88.2,147 v1 M89.2,147 v1 M90.0,147 v1 M90.7,147 v1 M91.3,147 v1 M91.9,147 v1 M95.5,147 v1 M97.3,147 v1 M98.6,147 v1 M99.6,147 v1 M100.5,147 v1 M101.2,147 v1 M101.8,147 v1 M102.3,147 v1 M105.9,147 v1 M107.7,147 v1 M109.1,147 v1 M110.1,147 v1 M110.9,147 v1 M111.6,147 v1 M112.2,147 v1 M112.7,147 v1 M71.5,147 v2.2 M81.9,147 v2.2 M92.3,147 v2.2 M102.8,147 v2.2 M113.2,147 v2.2" stroke="#000" stroke-width="0.6"/>
<path d="M71.5,144.2 h-1.3 M71.5,141.5 h-1.3 M71.5,138.8 h-1.3 M71.5,136.0 h-1.3 M71.5,133.2 h-1.3 M71.5,130.5 h-1.3 M71.5,127.8 h-1.3 M71.5,125.0 h-1.3 M71.5,122.2 h-1.3" stroke="#000" stroke-width="0.6"/>
<text x="67.6" y="119.3" font-family='"Liberation Serif", serif' font-weight="bold" font-size="6.6" fill="#000" text-anchor="middle" textLength="8.2" lengthAdjust="spacingAndGlyphs" transform="rotate(-90 67.6 119.3)" class="sm">600</text>
<text x="67.5" y="146.5" font-family='"Liberation Serif", serif' font-weight="bold" font-size="5.5" fill="#000" text-anchor="middle" transform="rotate(-90 67.5 146.5)" class="sm">0</text>
<text x="73" y="154.5" font-family='"Liberation Serif", serif' font-weight="bold" font-size="6.0" fill="#000" text-anchor="end" textLength="4.6" lengthAdjust="spacingAndGlyphs" class="sm">10</text>
<text x="73.4" y="151.2" font-family='"Liberation Serif", serif' font-weight="bold" font-size="5.0" fill="#000" textLength="2.2" lengthAdjust="spacingAndGlyphs" class="sm">0</text>
<text x="83.42" y="154.5" font-family='"Liberation Serif", serif' font-weight="bold" font-size="6.0" fill="#000" text-anchor="end" textLength="4.6" lengthAdjust="spacingAndGlyphs" class="sm">10</text>
<text x="83.83" y="151.2" font-family='"Liberation Serif", serif' font-weight="bold" font-size="5.0" fill="#000" textLength="2.2" lengthAdjust="spacingAndGlyphs" class="sm">1</text>
<text x="93.85" y="154.5" font-family='"Liberation Serif", serif' font-weight="bold" font-size="6.0" fill="#000" text-anchor="end" textLength="4.6" lengthAdjust="spacingAndGlyphs" class="sm">10</text>
<text x="94.25" y="151.2" font-family='"Liberation Serif", serif' font-weight="bold" font-size="5.0" fill="#000" textLength="2.2" lengthAdjust="spacingAndGlyphs" class="sm">2</text>
<text x="104.28" y="154.5" font-family='"Liberation Serif", serif' font-weight="bold" font-size="6.0" fill="#000" text-anchor="end" textLength="4.6" lengthAdjust="spacingAndGlyphs" class="sm">10</text>
<text x="104.68" y="151.2" font-family='"Liberation Serif", serif' font-weight="bold" font-size="5.0" fill="#000" textLength="2.2" lengthAdjust="spacingAndGlyphs" class="sm">3</text>
<text x="114.7" y="154.5" font-family='"Liberation Serif", serif' font-weight="bold" font-size="6.0" fill="#000" text-anchor="end" textLength="4.6" lengthAdjust="spacingAndGlyphs" class="sm">10</text>
<text x="115.1" y="151.2" font-family='"Liberation Serif", serif' font-weight="bold" font-size="5.0" fill="#000" textLength="2.2" lengthAdjust="spacingAndGlyphs" class="sm">4</text>
<text x="110.2" y="116.3" font-family='"Liberation Serif", serif' font-weight="bold" font-size="9.0" fill="#000" text-anchor="end" textLength="22.6" lengthAdjust="spacingAndGlyphs" >241.13</text>
<path d="M157.5,146.6 L157.7,146.3 L157.9,145.8 L158.2,144.9 L158.4,143.5 L158.6,141.7 L158.8,139.3 L159.1,136.5 L159.3,133.5 L159.5,130.4 L159.7,127.6 L160.0,125.2 L160.2,123.3 L160.4,122.1 L160.6,121.3 L160.9,121.1 L161.1,121.0 L163.1,121.0 L163.6,121.7 L164.1,123.4 L164.6,125.8 L165.1,128.7 L165.6,131.9 L166.1,134.9 L166.6,137.6 L167.1,140.0 L167.6,142.0 L168.1,143.5 L168.6,144.6 L169.1,145.4 L169.6,146.0 L170.1,146.3 L170.6,146.6 L171.1,146.7 Z" fill="url(#gp)" stroke="#7a7a7a" stroke-width="0.9"/>
<path d="M143.0,146.5 L143.4,146.3 L143.8,145.9 L144.2,145.3 L144.6,144.5 L145.0,143.4 L145.4,141.9 L145.8,140.1 L146.2,137.9 L146.5,135.4 L146.9,132.6 L147.3,129.8 L147.7,127.0 L148.1,124.6 L148.5,122.7 L148.9,121.4 L149.3,121.0 L149.3,121.0 L149.9,122.0 L150.4,124.1 L151.0,126.9 L151.5,130.0 L152.1,133.1 L152.6,136.0 L153.2,138.6 L153.7,140.7 L154.3,142.4 L154.8,143.8 L155.4,144.8 L156.0,145.5 L156.5,146.0 L157.1,146.3 L157.6,146.5 L158.2,146.7" fill="none" stroke="#000" stroke-width="1.1"/>
<path d="M139.7,147.5 V120.5 H182.2 V147.5" fill="none" stroke="#1a1a1a" stroke-width="0.85"/>
<line x1="139.1" y1="147.5" x2="183.1" y2="147.5" stroke="#000" stroke-width="1.8"/>
<line x1="139.7" y1="120.5" x2="139.7" y2="147.5" stroke="#000" stroke-width="1.5"/>
<path d="M142.9,147.5 v1 M144.8,147.5 v1 M146.1,147.5 v1 M147.1,147.5 v1 M148.0,147.5 v1 M148.7,147.5 v1 M149.3,147.5 v1 M149.8,147.5 v1 M153.5,147.5 v1 M155.4,147.5 v1 M156.7,147.5 v1 M157.8,147.5 v1 M158.6,147.5 v1 M159.3,147.5 v1 M159.9,147.5 v1 M160.5,147.5 v1 M164.1,147.5 v1 M166.0,147.5 v1 M167.3,147.5 v1 M168.4,147.5 v1 M169.2,147.5 v1 M169.9,147.5 v1 M170.5,147.5 v1 M171.1,147.5 v1 M174.8,147.5 v1 M176.6,147.5 v1 M178.0,147.5 v1 M179.0,147.5 v1 M179.8,147.5 v1 M180.6,147.5 v1 M181.2,147.5 v1 M181.7,147.5 v1 M139.7,147.5 v2.2 M150.3,147.5 v2.2 M160.9,147.5 v2.2 M171.6,147.5 v2.2 M182.2,147.5 v2.2" stroke="#000" stroke-width="0.6"/>
<path d="M139.7,144.8 h-1.3 M139.7,142.1 h-1.3 M139.7,139.4 h-1.3 M139.7,136.7 h-1.3 M139.7,134.0 h-1.3 M139.7,131.3 h-1.3 M139.7,128.6 h-1.3 M139.7,125.9 h-1.3 M139.7,123.2 h-1.3" stroke="#000" stroke-width="0.6"/>
<text x="135.8" y="120.3" font-family='"Liberation Serif", serif' font-weight="bold" font-size="6.6" fill="#000" text-anchor="middle" textLength="8.2" lengthAdjust="spacingAndGlyphs" transform="rotate(-90 135.8 120.3)" class="sm">600</text>
<text x="135.7" y="147" font-family='"Liberation Serif", serif' font-weight="bold" font-size="5.5" fill="#000" text-anchor="middle" transform="rotate(-90 135.7 147)" class="sm">0</text>
<text x="141.2" y="155" font-family='"Liberation Serif", serif' font-weight="bold" font-size="6.0" fill="#000" text-anchor="end" textLength="4.6" lengthAdjust="spacingAndGlyphs" class="sm">10</text>
<text x="141.6" y="151.7" font-family='"Liberation Serif", serif' font-weight="bold" font-size="5.0" fill="#000" textLength="2.2" lengthAdjust="spacingAndGlyphs" class="sm">0</text>
<text x="151.82" y="155" font-family='"Liberation Serif", serif' font-weight="bold" font-size="6.0" fill="#000" text-anchor="end" textLength="4.6" lengthAdjust="spacingAndGlyphs" class="sm">10</text>
<text x="152.22" y="151.7" font-family='"Liberation Serif", serif' font-weight="bold" font-size="5.0" fill="#000" textLength="2.2" lengthAdjust="spacingAndGlyphs" class="sm">1</text>
<text x="162.45" y="155" font-family='"Liberation Serif", serif' font-weight="bold" font-size="6.0" fill="#000" text-anchor="end" textLength="4.6" lengthAdjust="spacingAndGlyphs" class="sm">10</text>
<text x="162.85" y="151.7" font-family='"Liberation Serif", serif' font-weight="bold" font-size="5.0" fill="#000" textLength="2.2" lengthAdjust="spacingAndGlyphs" class="sm">2</text>
<text x="173.07" y="155" font-family='"Liberation Serif", serif' font-weight="bold" font-size="6.0" fill="#000" text-anchor="end" textLength="4.6" lengthAdjust="spacingAndGlyphs" class="sm">10</text>
<text x="173.47" y="151.7" font-family='"Liberation Serif", serif' font-weight="bold" font-size="5.0" fill="#000" textLength="2.2" lengthAdjust="spacingAndGlyphs" class="sm">3</text>
<text x="183.7" y="155" font-family='"Liberation Serif", serif' font-weight="bold" font-size="6.0" fill="#000" text-anchor="end" textLength="4.6" lengthAdjust="spacingAndGlyphs" class="sm">10</text>
<text x="184.1" y="151.7" font-family='"Liberation Serif", serif' font-weight="bold" font-size="5.0" fill="#000" textLength="2.2" lengthAdjust="spacingAndGlyphs" class="sm">4</text>
<text x="179.7" y="117.4" font-family='"Liberation Serif", serif' font-weight="bold" font-size="9.0" fill="#000" text-anchor="end" textLength="22.6" lengthAdjust="spacingAndGlyphs" >145.08</text>
<path d="M231.7,145.2 L231.9,144.9 L232.1,144.4 L232.3,143.4 L232.5,142.1 L232.7,140.2 L232.9,137.8 L233.1,134.9 L233.4,131.8 L233.6,128.7 L233.8,125.8 L234.0,123.4 L234.2,121.5 L234.4,120.2 L234.6,119.5 L234.8,119.2 L235.0,119.1 L237.0,119.1 L237.5,119.8 L237.9,121.5 L238.4,124.0 L238.8,127.0 L239.2,130.2 L239.7,133.2 L240.2,136.1 L240.6,138.5 L241.1,140.5 L241.5,142.0 L242.0,143.2 L242.4,144.0 L242.9,144.6 L243.3,144.9 L243.8,145.2 L244.2,145.3 Z" fill="url(#gp)" stroke="#7a7a7a" stroke-width="0.9"/>
<path d="M214.6,145.1 L215.0,144.9 L215.5,144.5 L215.9,143.9 L216.3,143.1 L216.8,141.9 L217.2,140.5 L217.6,138.6 L218.1,136.3 L218.5,133.8 L218.9,130.9 L219.3,128.0 L219.8,125.2 L220.2,122.8 L220.6,120.8 L221.1,119.5 L221.5,119.1 L221.5,119.1 L222.0,120.1 L222.6,122.2 L223.1,125.1 L223.7,128.3 L224.2,131.4 L224.8,134.4 L225.3,137.0 L225.9,139.2 L226.4,141.0 L227.0,142.3 L227.5,143.3 L228.1,144.1 L228.6,144.6 L229.2,144.9 L229.7,145.1 L230.3,145.3" fill="none" stroke="#000" stroke-width="1.1"/>
<path d="M211.5,146.1 V118.6 H254.4 V146.1" fill="none" stroke="#1a1a1a" stroke-width="0.85"/>
<line x1="210.9" y1="146.1" x2="255.3" y2="146.1" stroke="#000" stroke-width="1.8"/>
<line x1="211.5" y1="118.6" x2="211.5" y2="146.1" stroke="#000" stroke-width="1.5"/>
<path d="M214.7,146.1 v1 M216.6,146.1 v1 M218.0,146.1 v1 M219.0,146.1 v1 M219.8,146.1 v1 M220.6,146.1 v1 M221.2,146.1 v1 M221.7,146.1 v1 M225.5,146.1 v1 M227.3,146.1 v1 M228.7,146.1 v1 M229.7,146.1 v1 M230.6,146.1 v1 M231.3,146.1 v1 M231.9,146.1 v1 M232.5,146.1 v1 M236.2,146.1 v1 M238.1,146.1 v1 M239.4,146.1 v1 M240.4,146.1 v1 M241.3,146.1 v1 M242.0,146.1 v1 M242.6,146.1 v1 M243.2,146.1 v1 M246.9,146.1 v1 M248.8,146.1 v1 M250.1,146.1 v1 M251.2,146.1 v1 M252.0,146.1 v1 M252.7,146.1 v1 M253.4,146.1 v1 M253.9,146.1 v1 M211.5,146.1 v2.2 M222.2,146.1 v2.2 M232.9,146.1 v2.2 M243.7,146.1 v2.2 M254.4,146.1 v2.2" stroke="#000" stroke-width="0.6"/>
<path d="M211.5,143.3 h-1.3 M211.5,140.6 h-1.3 M211.5,137.8 h-1.3 M211.5,135.1 h-1.3 M211.5,132.3 h-1.3 M211.5,129.6 h-1.3 M211.5,126.8 h-1.3 M211.5,124.1 h-1.3 M211.5,121.3 h-1.3" stroke="#000" stroke-width="0.6"/>
<text x="207.6" y="118.4" font-family='"Liberation Serif", serif' font-weight="bold" font-size="6.6" fill="#000" text-anchor="middle" textLength="8.2" lengthAdjust="spacingAndGlyphs" transform="rotate(-90 207.6 118.4)" class="sm">600</text>
<text x="207.5" y="145.6" font-family='"Liberation Serif", serif' font-weight="bold" font-size="5.5" fill="#000" text-anchor="middle" transform="rotate(-90 207.5 145.6)" class="sm">0</text>
<text x="213" y="153.6" font-family='"Liberation Serif", serif' font-weight="bold" font-size="6.0" fill="#000" text-anchor="end" textLength="4.6" lengthAdjust="spacingAndGlyphs" class="sm">10</text>
<text x="213.4" y="150.3" font-family='"Liberation Serif", serif' font-weight="bold" font-size="5.0" fill="#000" textLength="2.2" lengthAdjust="spacingAndGlyphs" class="sm">0</text>
<text x="223.72" y="153.6" font-family='"Liberation Serif", serif' font-weight="bold" font-size="6.0" fill="#000" text-anchor="end" textLength="4.6" lengthAdjust="spacingAndGlyphs" class="sm">10</text>
<text x="224.12" y="150.3" font-family='"Liberation Serif", serif' font-weight="bold" font-size="5.0" fill="#000" textLength="2.2" lengthAdjust="spacingAndGlyphs" class="sm">1</text>
<text x="234.45" y="153.6" font-family='"Liberation Serif", serif' font-weight="bold" font-size="6.0" fill="#000" text-anchor="end" textLength="4.6" lengthAdjust="spacingAndGlyphs" class="sm">10</text>
<text x="234.85" y="150.3" font-family='"Liberation Serif", serif' font-weight="bold" font-size="5.0" fill="#000" textLength="2.2" lengthAdjust="spacingAndGlyphs" class="sm">2</text>
<text x="245.18" y="153.6" font-family='"Liberation Serif", serif' font-weight="bold" font-size="6.0" fill="#000" text-anchor="end" textLength="4.6" lengthAdjust="spacingAndGlyphs" class="sm">10</text>
<text x="245.58" y="150.3" font-family='"Liberation Serif", serif' font-weight="bold" font-size="5.0" fill="#000" textLength="2.2" lengthAdjust="spacingAndGlyphs" class="sm">3</text>
<text x="255.9" y="153.6" font-family='"Liberation Serif", serif' font-weight="bold" font-size="6.0" fill="#000" text-anchor="end" textLength="4.6" lengthAdjust="spacingAndGlyphs" class="sm">10</text>
<text x="256.3" y="150.3" font-family='"Liberation Serif", serif' font-weight="bold" font-size="5.0" fill="#000" textLength="2.2" lengthAdjust="spacingAndGlyphs" class="sm">4</text>
<text x="251.6" y="117" font-family='"Liberation Serif", serif' font-weight="bold" font-size="9.0" fill="#000" text-anchor="end" textLength="22.6" lengthAdjust="spacingAndGlyphs" >192.92</text>
<path d="M300.5,145.2 L300.6,144.9 L300.8,144.4 L300.9,143.4 L301.1,142.1 L301.3,140.2 L301.4,137.7 L301.6,134.9 L301.7,131.8 L301.9,128.6 L302.1,125.7 L302.2,123.3 L302.4,121.4 L302.5,120.1 L302.7,119.4 L302.8,119.1 L303.0,119.0 L305.0,119.0 L305.6,119.7 L306.1,121.4 L306.7,123.9 L307.2,126.9 L307.8,130.1 L308.4,133.2 L308.9,136.0 L309.5,138.5 L310.1,140.5 L310.6,142.0 L311.2,143.2 L311.8,144.0 L312.3,144.6 L312.9,144.9 L313.4,145.2 L314.0,145.3 Z" fill="url(#gp)" stroke="#7a7a7a" stroke-width="0.9"/>
<path d="M283.5,145.1 L284.0,144.9 L284.4,144.5 L284.9,143.9 L285.4,143.1 L285.8,141.9 L286.3,140.4 L286.7,138.6 L287.2,136.3 L287.6,133.7 L288.1,130.9 L288.5,128.0 L289.0,125.2 L289.4,122.7 L289.9,120.7 L290.3,119.4 L290.8,119.0 L290.8,119.0 L291.4,120.0 L291.9,122.1 L292.5,125.0 L293.1,128.2 L293.6,131.4 L294.2,134.3 L294.7,137.0 L295.3,139.2 L295.9,140.9 L296.4,142.3 L297.0,143.3 L297.6,144.1 L298.1,144.6 L298.7,144.9 L299.2,145.1 L299.8,145.3" fill="none" stroke="#000" stroke-width="1.1"/>
<path d="M280.6,146.1 V118.5 H323.4 V146.1" fill="none" stroke="#1a1a1a" stroke-width="0.85"/>
<line x1="280" y1="146.1" x2="324.3" y2="146.1" stroke="#000" stroke-width="1.8"/>
<line x1="280.6" y1="118.5" x2="280.6" y2="146.1" stroke="#000" stroke-width="1.5"/>
<path d="M283.8,146.1 v1 M285.7,146.1 v1 M287.0,146.1 v1 M288.1,146.1 v1 M288.9,146.1 v1 M289.6,146.1 v1 M290.3,146.1 v1 M290.8,146.1 v1 M294.5,146.1 v1 M296.4,146.1 v1 M297.7,146.1 v1 M298.8,146.1 v1 M299.6,146.1 v1 M300.3,146.1 v1 M301.0,146.1 v1 M301.5,146.1 v1 M305.2,146.1 v1 M307.1,146.1 v1 M308.4,146.1 v1 M309.5,146.1 v1 M310.3,146.1 v1 M311.0,146.1 v1 M311.7,146.1 v1 M312.2,146.1 v1 M315.9,146.1 v1 M317.8,146.1 v1 M319.1,146.1 v1 M320.2,146.1 v1 M321.0,146.1 v1 M321.7,146.1 v1 M322.4,146.1 v1 M322.9,146.1 v1 M280.6,146.1 v2.2 M291.3,146.1 v2.2 M302.0,146.1 v2.2 M312.7,146.1 v2.2 M323.4,146.1 v2.2" stroke="#000" stroke-width="0.6"/>
<path d="M280.6,143.3 h-1.3 M280.6,140.6 h-1.3 M280.6,137.8 h-1.3 M280.6,135.1 h-1.3 M280.6,132.3 h-1.3 M280.6,129.5 h-1.3 M280.6,126.8 h-1.3 M280.6,124.0 h-1.3 M280.6,121.3 h-1.3" stroke="#000" stroke-width="0.6"/>
<text x="276.7" y="118.3" font-family='"Liberation Serif", serif' font-weight="bold" font-size="6.6" fill="#000" text-anchor="middle" textLength="8.2" lengthAdjust="spacingAndGlyphs" transform="rotate(-90 276.7 118.3)" class="sm">600</text>
<text x="276.6" y="145.6" font-family='"Liberation Serif", serif' font-weight="bold" font-size="5.5" fill="#000" text-anchor="middle" transform="rotate(-90 276.6 145.6)" class="sm">0</text>
<text x="282.1" y="153.6" font-family='"Liberation Serif", serif' font-weight="bold" font-size="6.0" fill="#000" text-anchor="end" textLength="4.6" lengthAdjust="spacingAndGlyphs" class="sm">10</text>
<text x="282.5" y="150.3" font-family='"Liberation Serif", serif' font-weight="bold" font-size="5.0" fill="#000" textLength="2.2" lengthAdjust="spacingAndGlyphs" class="sm">0</text>
<text x="292.8" y="153.6" font-family='"Liberation Serif", serif' font-weight="bold" font-size="6.0" fill="#000" text-anchor="end" textLength="4.6" lengthAdjust="spacingAndGlyphs" class="sm">10</text>
<text x="293.2" y="150.3" font-family='"Liberation Serif", serif' font-weight="bold" font-size="5.0" fill="#000" textLength="2.2" lengthAdjust="spacingAndGlyphs" class="sm">1</text>
<text x="303.5" y="153.6" font-family='"Liberation Serif", serif' font-weight="bold" font-size="6.0" fill="#000" text-anchor="end" textLength="4.6" lengthAdjust="spacingAndGlyphs" class="sm">10</text>
<text x="303.9" y="150.3" font-family='"Liberation Serif", serif' font-weight="bold" font-size="5.0" fill="#000" textLength="2.2" lengthAdjust="spacingAndGlyphs" class="sm">2</text>
<text x="314.2" y="153.6" font-family='"Liberation Serif", serif' font-weight="bold" font-size="6.0" fill="#000" text-anchor="end" textLength="4.6" lengthAdjust="spacingAndGlyphs" class="sm">10</text>
<text x="314.6" y="150.3" font-family='"Liberation Serif", serif' font-weight="bold" font-size="5.0" fill="#000" textLength="2.2" lengthAdjust="spacingAndGlyphs" class="sm">3</text>
<text x="324.9" y="153.6" font-family='"Liberation Serif", serif' font-weight="bold" font-size="6.0" fill="#000" text-anchor="end" textLength="4.6" lengthAdjust="spacingAndGlyphs" class="sm">10</text>
<text x="325.3" y="150.3" font-family='"Liberation Serif", serif' font-weight="bold" font-size="5.0" fill="#000" textLength="2.2" lengthAdjust="spacingAndGlyphs" class="sm">4</text>
<text x="321.2" y="115.6" font-family='"Liberation Serif", serif' font-weight="bold" font-size="9.0" fill="#000" text-anchor="end" textLength="22.6" lengthAdjust="spacingAndGlyphs" >195.18</text>
<path d="M92.5,201.1 L92.6,200.8 L92.8,200.2 L92.9,199.3 L93.1,197.9 L93.3,195.9 L93.4,193.4 L93.6,190.5 L93.7,187.3 L93.9,184.1 L94.1,181.2 L94.2,178.7 L94.4,176.7 L94.5,175.4 L94.7,174.7 L94.8,174.4 L95.0,174.3 L97.0,174.3 L97.5,175.0 L98.0,176.8 L98.5,179.3 L99.0,182.4 L99.5,185.7 L100.0,188.8 L100.5,191.7 L101.0,194.2 L101.5,196.2 L101.9,197.8 L102.4,199.0 L102.9,199.9 L103.4,200.4 L103.9,200.8 L104.4,201.1 L104.9,201.2 Z" fill="url(#gp)" stroke="#7a7a7a" stroke-width="0.9"/>
<path d="M75.9,201.0 L76.2,200.7 L76.6,200.3 L77.0,199.7 L77.3,198.9 L77.7,197.7 L78.1,196.2 L78.4,194.3 L78.8,192.0 L79.2,189.4 L79.5,186.5 L79.9,183.5 L80.2,180.6 L80.6,178.0 L81.0,176.0 L81.3,174.7 L81.7,174.3 L81.7,174.3 L82.3,175.3 L82.8,177.5 L83.4,180.4 L84.0,183.7 L84.5,187.0 L85.1,190.0 L85.7,192.7 L86.3,194.9 L86.8,196.7 L87.4,198.1 L88.0,199.2 L88.5,199.9 L89.1,200.4 L89.7,200.8 L90.2,201.0 L90.8,201.2" fill="none" stroke="#000" stroke-width="1.1"/>
<path d="M72,202 V173.8 H113.4 V202" fill="none" stroke="#1a1a1a" stroke-width="0.85"/>
<line x1="71.4" y1="202" x2="114.3" y2="202" stroke="#000" stroke-width="1.8"/>
<line x1="72" y1="173.8" x2="72" y2="202" stroke="#000" stroke-width="1.5"/>
<path d="M75.1,202 v1 M76.9,202 v1 M78.2,202 v1 M79.2,202 v1 M80.1,202 v1 M80.7,202 v1 M81.3,202 v1 M81.9,202 v1 M85.5,202 v1 M87.3,202 v1 M88.6,202 v1 M89.6,202 v1 M90.4,202 v1 M91.1,202 v1 M91.7,202 v1 M92.2,202 v1 M95.8,202 v1 M97.6,202 v1 M98.9,202 v1 M99.9,202 v1 M100.8,202 v1 M101.4,202 v1 M102.0,202 v1 M102.6,202 v1 M106.2,202 v1 M108.0,202 v1 M109.3,202 v1 M110.3,202 v1 M111.1,202 v1 M111.8,202 v1 M112.4,202 v1 M112.9,202 v1 M72.0,202 v2.2 M82.3,202 v2.2 M92.7,202 v2.2 M103.1,202 v2.2 M113.4,202 v2.2" stroke="#000" stroke-width="0.6"/>
<path d="M72,199.2 h-1.3 M72,196.4 h-1.3 M72,193.5 h-1.3 M72,190.7 h-1.3 M72,187.9 h-1.3 M72,185.1 h-1.3 M72,182.3 h-1.3 M72,179.4 h-1.3 M72,176.6 h-1.3" stroke="#000" stroke-width="0.6"/>
<text x="68.1" y="173.6" font-family='"Liberation Serif", serif' font-weight="bold" font-size="6.6" fill="#000" text-anchor="middle" textLength="8.2" lengthAdjust="spacingAndGlyphs" transform="rotate(-90 68.1 173.6)" class="sm">600</text>
<text x="68" y="201.5" font-family='"Liberation Serif", serif' font-weight="bold" font-size="5.5" fill="#000" text-anchor="middle" transform="rotate(-90 68 201.5)" class="sm">0</text>
<text x="73.5" y="209.5" font-family='"Liberation Serif", serif' font-weight="bold" font-size="6.0" fill="#000" text-anchor="end" textLength="4.6" lengthAdjust="spacingAndGlyphs" class="sm">10</text>
<text x="73.9" y="206.2" font-family='"Liberation Serif", serif' font-weight="bold" font-size="5.0" fill="#000" textLength="2.2" lengthAdjust="spacingAndGlyphs" class="sm">0</text>
<text x="83.85" y="209.5" font-family='"Liberation Serif", serif' font-weight="bold" font-size="6.0" fill="#000" text-anchor="end" textLength="4.6" lengthAdjust="spacingAndGlyphs" class="sm">10</text>
<text x="84.25" y="206.2" font-family='"Liberation Serif", serif' font-weight="bold" font-size="5.0" fill="#000" textLength="2.2" lengthAdjust="spacingAndGlyphs" class="sm">1</text>
<text x="94.2" y="209.5" font-family='"Liberation Serif", serif' font-weight="bold" font-size="6.0" fill="#000" text-anchor="end" textLength="4.6" lengthAdjust="spacingAndGlyphs" class="sm">10</text>
<text x="94.6" y="206.2" font-family='"Liberation Serif", serif' font-weight="bold" font-size="5.0" fill="#000" textLength="2.2" lengthAdjust="spacingAndGlyphs" class="sm">2</text>
<text x="104.55" y="209.5" font-family='"Liberation Serif", serif' font-weight="bold" font-size="6.0" fill="#000" text-anchor="end" textLength="4.6" lengthAdjust="spacingAndGlyphs" class="sm">10</text>
<text x="104.95" y="206.2" font-family='"Liberation Serif", serif' font-weight="bold" font-size="5.0" fill="#000" textLength="2.2" lengthAdjust="spacingAndGlyphs" class="sm">3</text>
<text x="114.9" y="209.5" font-family='"Liberation Serif", serif' font-weight="bold" font-size="6.0" fill="#000" text-anchor="end" textLength="4.6" lengthAdjust="spacingAndGlyphs" class="sm">10</text>
<text x="115.3" y="206.2" font-family='"Liberation Serif", serif' font-weight="bold" font-size="5.0" fill="#000" textLength="2.2" lengthAdjust="spacingAndGlyphs" class="sm">4</text>
<text x="110.6" y="170.2" font-family='"Liberation Serif", serif' font-weight="bold" font-size="9.0" fill="#000" text-anchor="end" textLength="22.6" lengthAdjust="spacingAndGlyphs" >234.16</text>
<path d="M158.1,202.1 L158.2,201.8 L158.4,201.3 L158.6,200.3 L158.7,199.0 L158.9,197.1 L159.1,194.7 L159.3,191.8 L159.4,188.7 L159.6,185.6 L159.8,182.7 L159.9,180.3 L160.1,178.4 L160.3,177.1 L160.5,176.4 L160.6,176.1 L160.8,176.0 L162.8,176.0 L163.3,176.7 L163.8,178.4 L164.4,180.9 L164.9,183.9 L165.4,187.1 L165.9,190.1 L166.5,193.0 L167.0,195.4 L167.5,197.4 L168.1,198.9 L168.6,200.1 L169.1,200.9 L169.6,201.5 L170.2,201.8 L170.7,202.1 L171.2,202.2 Z" fill="url(#gp)" stroke="#7a7a7a" stroke-width="0.9"/>
<path d="M142.2,202.0 L142.7,201.8 L143.1,201.4 L143.6,200.8 L144.1,200.0 L144.5,198.8 L145.0,197.4 L145.4,195.5 L145.9,193.2 L146.3,190.7 L146.8,187.8 L147.2,184.9 L147.7,182.1 L148.1,179.7 L148.6,177.7 L149.0,176.4 L149.5,176.0 L149.5,176.0 L150.0,177.0 L150.6,179.1 L151.1,182.0 L151.7,185.2 L152.2,188.3 L152.7,191.3 L153.3,193.9 L153.8,196.1 L154.4,197.9 L154.9,199.2 L155.4,200.2 L156.0,201.0 L156.5,201.5 L157.1,201.8 L157.6,202.0 L158.1,202.2" fill="none" stroke="#000" stroke-width="1.1"/>
<path d="M140.2,203 V175.5 H182.2 V203" fill="none" stroke="#1a1a1a" stroke-width="0.85"/>
<line x1="139.6" y1="203" x2="183.1" y2="203" stroke="#000" stroke-width="1.8"/>
<line x1="140.2" y1="175.5" x2="140.2" y2="203" stroke="#000" stroke-width="1.5"/>
<path d="M143.4,203 v1 M145.2,203 v1 M146.5,203 v1 M147.5,203 v1 M148.4,203 v1 M149.1,203 v1 M149.7,203 v1 M150.2,203 v1 M153.9,203 v1 M155.7,203 v1 M157.0,203 v1 M158.0,203 v1 M158.9,203 v1 M159.6,203 v1 M160.2,203 v1 M160.7,203 v1 M164.4,203 v1 M166.2,203 v1 M167.5,203 v1 M168.5,203 v1 M169.4,203 v1 M170.1,203 v1 M170.7,203 v1 M171.2,203 v1 M174.9,203 v1 M176.7,203 v1 M178.0,203 v1 M179.0,203 v1 M179.9,203 v1 M180.6,203 v1 M181.2,203 v1 M181.7,203 v1 M140.2,203 v2.2 M150.7,203 v2.2 M161.2,203 v2.2 M171.7,203 v2.2 M182.2,203 v2.2" stroke="#000" stroke-width="0.6"/>
<path d="M140.2,200.2 h-1.3 M140.2,197.5 h-1.3 M140.2,194.8 h-1.3 M140.2,192.0 h-1.3 M140.2,189.2 h-1.3 M140.2,186.5 h-1.3 M140.2,183.8 h-1.3 M140.2,181.0 h-1.3 M140.2,178.2 h-1.3" stroke="#000" stroke-width="0.6"/>
<text x="136.3" y="175.3" font-family='"Liberation Serif", serif' font-weight="bold" font-size="6.6" fill="#000" text-anchor="middle" textLength="8.2" lengthAdjust="spacingAndGlyphs" transform="rotate(-90 136.3 175.3)" class="sm">600</text>
<text x="136.2" y="202.5" font-family='"Liberation Serif", serif' font-weight="bold" font-size="5.5" fill="#000" text-anchor="middle" transform="rotate(-90 136.2 202.5)" class="sm">0</text>
<text x="141.7" y="210.5" font-family='"Liberation Serif", serif' font-weight="bold" font-size="6.0" fill="#000" text-anchor="end" textLength="4.6" lengthAdjust="spacingAndGlyphs" class="sm">10</text>
<text x="142.1" y="207.2" font-family='"Liberation Serif", serif' font-weight="bold" font-size="5.0" fill="#000" textLength="2.2" lengthAdjust="spacingAndGlyphs" class="sm">0</text>
<text x="152.2" y="210.5" font-family='"Liberation Serif", serif' font-weight="bold" font-size="6.0" fill="#000" text-anchor="end" textLength="4.6" lengthAdjust="spacingAndGlyphs" class="sm">10</text>
<text x="152.6" y="207.2" font-family='"Liberation Serif", serif' font-weight="bold" font-size="5.0" fill="#000" textLength="2.2" lengthAdjust="spacingAndGlyphs" class="sm">1</text>
<text x="162.7" y="210.5" font-family='"Liberation Serif", serif' font-weight="bold" font-size="6.0" fill="#000" text-anchor="end" textLength="4.6" lengthAdjust="spacingAndGlyphs" class="sm">10</text>
<text x="163.1" y="207.2" font-family='"Liberation Serif", serif' font-weight="bold" font-size="5.0" fill="#000" textLength="2.2" lengthAdjust="spacingAndGlyphs" class="sm">2</text>
<text x="173.2" y="210.5" font-family='"Liberation Serif", serif' font-weight="bold" font-size="6.0" fill="#000" text-anchor="end" textLength="4.6" lengthAdjust="spacingAndGlyphs" class="sm">10</text>
<text x="173.6" y="207.2" font-family='"Liberation Serif", serif' font-weight="bold" font-size="5.0" fill="#000" textLength="2.2" lengthAdjust="spacingAndGlyphs" class="sm">3</text>
<text x="183.7" y="210.5" font-family='"Liberation Serif", serif' font-weight="bold" font-size="6.0" fill="#000" text-anchor="end" textLength="4.6" lengthAdjust="spacingAndGlyphs" class="sm">10</text>
<text x="184.1" y="207.2" font-family='"Liberation Serif", serif' font-weight="bold" font-size="5.0" fill="#000" textLength="2.2" lengthAdjust="spacingAndGlyphs" class="sm">4</text>
<text x="179.8" y="172.8" font-family='"Liberation Serif", serif' font-weight="bold" font-size="9.0" fill="#000" text-anchor="end" textLength="22.6" lengthAdjust="spacingAndGlyphs" >142.65</text>
<path d="M231.9,201.2 L232.0,200.9 L232.2,200.3 L232.3,199.4 L232.5,198.0 L232.7,196.0 L232.8,193.5 L233.0,190.6 L233.1,187.4 L233.3,184.2 L233.5,181.3 L233.6,178.8 L233.8,176.8 L233.9,175.5 L234.1,174.8 L234.2,174.5 L234.4,174.4 L236.4,174.4 L236.9,175.1 L237.5,176.9 L238.0,179.4 L238.6,182.5 L239.1,185.8 L239.6,188.9 L240.2,191.8 L240.7,194.3 L241.3,196.3 L241.8,197.9 L242.3,199.1 L242.9,200.0 L243.4,200.5 L244.0,200.9 L244.5,201.2 L245.0,201.3 Z" fill="url(#gp)" stroke="#7a7a7a" stroke-width="0.9"/>
<path d="M215.0,201.1 L215.5,200.8 L215.9,200.4 L216.4,199.8 L216.9,199.0 L217.3,197.8 L217.8,196.3 L218.2,194.4 L218.7,192.1 L219.1,189.5 L219.6,186.6 L220.0,183.6 L220.5,180.7 L220.9,178.1 L221.4,176.1 L221.8,174.8 L222.3,174.4 L222.3,174.4 L222.8,175.4 L223.4,177.6 L223.9,180.5 L224.4,183.8 L225.0,187.1 L225.5,190.1 L226.0,192.8 L226.6,195.0 L227.1,196.8 L227.6,198.2 L228.2,199.3 L228.7,200.0 L229.2,200.5 L229.8,200.9 L230.3,201.1 L230.8,201.3" fill="none" stroke="#000" stroke-width="1.1"/>
<path d="M211.8,202.1 V173.9 H254.6 V202.1" fill="none" stroke="#1a1a1a" stroke-width="0.85"/>
<line x1="211.2" y1="202.1" x2="255.5" y2="202.1" stroke="#000" stroke-width="1.8"/>
<line x1="211.8" y1="173.9" x2="211.8" y2="202.1" stroke="#000" stroke-width="1.5"/>
<path d="M215.0,202.1 v1 M216.9,202.1 v1 M218.2,202.1 v1 M219.3,202.1 v1 M220.1,202.1 v1 M220.8,202.1 v1 M221.5,202.1 v1 M222.0,202.1 v1 M225.7,202.1 v1 M227.6,202.1 v1 M228.9,202.1 v1 M230.0,202.1 v1 M230.8,202.1 v1 M231.5,202.1 v1 M232.2,202.1 v1 M232.7,202.1 v1 M236.4,202.1 v1 M238.3,202.1 v1 M239.6,202.1 v1 M240.7,202.1 v1 M241.5,202.1 v1 M242.2,202.1 v1 M242.9,202.1 v1 M243.4,202.1 v1 M247.1,202.1 v1 M249.0,202.1 v1 M250.3,202.1 v1 M251.4,202.1 v1 M252.2,202.1 v1 M252.9,202.1 v1 M253.6,202.1 v1 M254.1,202.1 v1 M211.8,202.1 v2.2 M222.5,202.1 v2.2 M233.2,202.1 v2.2 M243.9,202.1 v2.2 M254.6,202.1 v2.2" stroke="#000" stroke-width="0.6"/>
<path d="M211.8,199.3 h-1.3 M211.8,196.5 h-1.3 M211.8,193.6 h-1.3 M211.8,190.8 h-1.3 M211.8,188.0 h-1.3 M211.8,185.2 h-1.3 M211.8,182.4 h-1.3 M211.8,179.5 h-1.3 M211.8,176.7 h-1.3" stroke="#000" stroke-width="0.6"/>
<text x="207.9" y="173.7" font-family='"Liberation Serif", serif' font-weight="bold" font-size="6.6" fill="#000" text-anchor="middle" textLength="8.2" lengthAdjust="spacingAndGlyphs" transform="rotate(-90 207.9 173.7)" class="sm">600</text>
<text x="207.8" y="201.6" font-family='"Liberation Serif", serif' font-weight="bold" font-size="5.5" fill="#000" text-anchor="middle" transform="rotate(-90 207.8 201.6)" class="sm">0</text>
<text x="213.3" y="209.6" font-family='"Liberation Serif", serif' font-weight="bold" font-size="6.0" fill="#000" text-anchor="end" textLength="4.6" lengthAdjust="spacingAndGlyphs" class="sm">10</text>
<text x="213.7" y="206.3" font-family='"Liberation Serif", serif' font-weight="bold" font-size="5.0" fill="#000" textLength="2.2" lengthAdjust="spacingAndGlyphs" class="sm">0</text>
<text x="224" y="209.6" font-family='"Liberation Serif", serif' font-weight="bold" font-size="6.0" fill="#000" text-anchor="end" textLength="4.6" lengthAdjust="spacingAndGlyphs" class="sm">10</text>
<text x="224.4" y="206.3" font-family='"Liberation Serif", serif' font-weight="bold" font-size="5.0" fill="#000" textLength="2.2" lengthAdjust="spacingAndGlyphs" class="sm">1</text>
<text x="234.7" y="209.6" font-family='"Liberation Serif", serif' font-weight="bold" font-size="6.0" fill="#000" text-anchor="end" textLength="4.6" lengthAdjust="spacingAndGlyphs" class="sm">10</text>
<text x="235.1" y="206.3" font-family='"Liberation Serif", serif' font-weight="bold" font-size="5.0" fill="#000" textLength="2.2" lengthAdjust="spacingAndGlyphs" class="sm">2</text>
<text x="245.4" y="209.6" font-family='"Liberation Serif", serif' font-weight="bold" font-size="6.0" fill="#000" text-anchor="end" textLength="4.6" lengthAdjust="spacingAndGlyphs" class="sm">10</text>
<text x="245.8" y="206.3" font-family='"Liberation Serif", serif' font-weight="bold" font-size="5.0" fill="#000" textLength="2.2" lengthAdjust="spacingAndGlyphs" class="sm">3</text>
<text x="256.1" y="209.6" font-family='"Liberation Serif", serif' font-weight="bold" font-size="6.0" fill="#000" text-anchor="end" textLength="4.6" lengthAdjust="spacingAndGlyphs" class="sm">10</text>
<text x="256.5" y="206.3" font-family='"Liberation Serif", serif' font-weight="bold" font-size="5.0" fill="#000" textLength="2.2" lengthAdjust="spacingAndGlyphs" class="sm">4</text>
<text x="251.6" y="171.5" font-family='"Liberation Serif", serif' font-weight="bold" font-size="9.0" fill="#000" text-anchor="end" textLength="22.6" lengthAdjust="spacingAndGlyphs" >183.89</text>
<path d="M301.3,202.9 L301.5,202.6 L301.7,202.0 L301.9,201.1 L302.1,199.7 L302.3,197.8 L302.5,195.4 L302.7,192.5 L302.9,189.3 L303.1,186.2 L303.2,183.3 L303.4,180.8 L303.6,178.9 L303.8,177.6 L304.0,176.9 L304.2,176.6 L304.4,176.5 L306.4,176.5 L306.9,177.2 L307.5,178.9 L308.0,181.5 L308.6,184.5 L309.1,187.7 L309.6,190.8 L310.2,193.7 L310.7,196.1 L311.3,198.1 L311.8,199.7 L312.3,200.8 L312.9,201.7 L313.4,202.2 L314.0,202.6 L314.5,202.9 L315.0,203.0 Z" fill="url(#gp)" stroke="#7a7a7a" stroke-width="0.9"/>
<path d="M284.4,202.8 L284.9,202.6 L285.3,202.2 L285.8,201.6 L286.3,200.7 L286.7,199.6 L287.2,198.1 L287.6,196.2 L288.1,193.9 L288.5,191.3 L289.0,188.5 L289.4,185.5 L289.9,182.7 L290.3,180.2 L290.8,178.2 L291.2,176.9 L291.7,176.5 L291.7,176.5 L292.3,177.5 L292.8,179.7 L293.4,182.6 L294.0,185.8 L294.5,189.0 L295.1,192.0 L295.7,194.6 L296.3,196.8 L296.8,198.6 L297.4,200.0 L298.0,201.0 L298.5,201.7 L299.1,202.3 L299.7,202.6 L300.2,202.8 L300.8,203.0" fill="none" stroke="#000" stroke-width="1.1"/>
<path d="M281.5,203.8 V176 H323.6 V203.8" fill="none" stroke="#1a1a1a" stroke-width="0.85"/>
<line x1="280.9" y1="203.8" x2="324.5" y2="203.8" stroke="#000" stroke-width="1.8"/>
<line x1="281.5" y1="176" x2="281.5" y2="203.8" stroke="#000" stroke-width="1.5"/>
<path d="M284.7,203.8 v1 M286.5,203.8 v1 M287.8,203.8 v1 M288.9,203.8 v1 M289.7,203.8 v1 M290.4,203.8 v1 M291.0,203.8 v1 M291.5,203.8 v1 M295.2,203.8 v1 M297.0,203.8 v1 M298.4,203.8 v1 M299.4,203.8 v1 M300.2,203.8 v1 M300.9,203.8 v1 M301.5,203.8 v1 M302.1,203.8 v1 M305.7,203.8 v1 M307.6,203.8 v1 M308.9,203.8 v1 M309.9,203.8 v1 M310.7,203.8 v1 M311.4,203.8 v1 M312.1,203.8 v1 M312.6,203.8 v1 M316.2,203.8 v1 M318.1,203.8 v1 M319.4,203.8 v1 M320.4,203.8 v1 M321.3,203.8 v1 M322.0,203.8 v1 M322.6,203.8 v1 M323.1,203.8 v1 M281.5,203.8 v2.2 M292.0,203.8 v2.2 M302.6,203.8 v2.2 M313.1,203.8 v2.2 M323.6,203.8 v2.2" stroke="#000" stroke-width="0.6"/>
<path d="M281.5,201.0 h-1.3 M281.5,198.2 h-1.3 M281.5,195.5 h-1.3 M281.5,192.7 h-1.3 M281.5,189.9 h-1.3 M281.5,187.1 h-1.3 M281.5,184.3 h-1.3 M281.5,181.6 h-1.3 M281.5,178.8 h-1.3" stroke="#000" stroke-width="0.6"/>
<text x="277.6" y="175.8" font-family='"Liberation Serif", serif' font-weight="bold" font-size="6.6" fill="#000" text-anchor="middle" textLength="8.2" lengthAdjust="spacingAndGlyphs" transform="rotate(-90 277.6 175.8)" class="sm">600</text>
<text x="277.5" y="203.3" font-family='"Liberation Serif", serif' font-weight="bold" font-size="5.5" fill="#000" text-anchor="middle" transform="rotate(-90 277.5 203.3)" class="sm">0</text>
<text x="283" y="211.3" font-family='"Liberation Serif", serif' font-weight="bold" font-size="6.0" fill="#000" text-anchor="end" textLength="4.6" lengthAdjust="spacingAndGlyphs" class="sm">10</text>
<text x="283.4" y="208" font-family='"Liberation Serif", serif' font-weight="bold" font-size="5.0" fill="#000" textLength="2.2" lengthAdjust="spacingAndGlyphs" class="sm">0</text>
<text x="293.52" y="211.3" font-family='"Liberation Serif", serif' font-weight="bold" font-size="6.0" fill="#000" text-anchor="end" textLength="4.6" lengthAdjust="spacingAndGlyphs" class="sm">10</text>
<text x="293.92" y="208" font-family='"Liberation Serif", serif' font-weight="bold" font-size="5.0" fill="#000" textLength="2.2" lengthAdjust="spacingAndGlyphs" class="sm">1</text>
<text x="304.05" y="211.3" font-family='"Liberation Serif", serif' font-weight="bold" font-size="6.0" fill="#000" text-anchor="end" textLength="4.6" lengthAdjust="spacingAndGlyphs" class="sm">10</text>
<text x="304.45" y="208" font-family='"Liberation Serif", serif' font-weight="bold" font-size="5.0" fill="#000" textLength="2.2" lengthAdjust="spacingAndGlyphs" class="sm">2</text>
<text x="314.58" y="211.3" font-family='"Liberation Serif", serif' font-weight="bold" font-size="6.0" fill="#000" text-anchor="end" textLength="4.6" lengthAdjust="spacingAndGlyphs" class="sm">10</text>
<text x="314.98" y="208" font-family='"Liberation Serif", serif' font-weight="bold" font-size="5.0" fill="#000" textLength="2.2" lengthAdjust="spacingAndGlyphs" class="sm">3</text>
<text x="325.1" y="211.3" font-family='"Liberation Serif", serif' font-weight="bold" font-size="6.0" fill="#000" text-anchor="end" textLength="4.6" lengthAdjust="spacingAndGlyphs" class="sm">10</text>
<text x="325.5" y="208" font-family='"Liberation Serif", serif' font-weight="bold" font-size="5.0" fill="#000" textLength="2.2" lengthAdjust="spacingAndGlyphs" class="sm">4</text>
<text x="321.6" y="172.8" font-family='"Liberation Serif", serif' font-weight="bold" font-size="9.0" fill="#000" text-anchor="end" textLength="22.6" lengthAdjust="spacingAndGlyphs" >185.95</text>
<text x="52.2" y="27" font-family='"Liberation Serif", serif' font-weight="bold" font-size="8.4" fill="#000" text-anchor="middle" textLength="12" lengthAdjust="spacingAndGlyphs" >DC</text>
<text x="41.4" y="71.9" font-family='"Liberation Serif", serif' font-weight="bold" font-size="8.4" fill="#000" text-anchor="middle" textLength="13.6" lengthAdjust="spacingAndGlyphs" >Csa</text>
<text x="42.6" y="85.9" font-family='"Liberation Serif", serif' font-weight="bold" font-size="8.4" fill="#000" text-anchor="middle" textLength="38.2" lengthAdjust="spacingAndGlyphs" >(1 µg/mL)</text>
<text x="32.8" y="125.8" font-family='"Liberation Serif", serif' font-weight="bold" font-size="8.4" fill="#000" text-anchor="middle" textLength="16.3" lengthAdjust="spacingAndGlyphs" >LPS</text>
<text x="36.6" y="141" font-family='"Liberation Serif", serif' font-weight="bold" font-size="8.4" fill="#000" text-anchor="middle" textLength="46.4" lengthAdjust="spacingAndGlyphs" >(100 ng/mL)</text>
<text x="1" y="181.2" font-family='"Liberation Serif", serif' font-weight="bold" font-size="8.4" fill="#000" textLength="58.6" lengthAdjust="spacingAndGlyphs" >CsA (1 µg/mL)+</text>
<text x="0.8" y="195.4" font-family='"Liberation Serif", serif' font-weight="bold" font-size="8.4" fill="#000" textLength="63" lengthAdjust="spacingAndGlyphs" >LPS (100 ng/mL)</text>
<text x="85.7" y="223.2" font-family='"Liberation Serif", serif' font-weight="bold" font-size="8.4" fill="#000" textLength="6.8" lengthAdjust="spacingAndGlyphs" >Ia</text>
<text x="92.9" y="219.9" font-family='"Liberation Serif", serif' font-weight="normal" font-size="5.8" fill="#000" >b</text>
<text x="151.9" y="223.3" font-family='"Liberation Serif", serif' font-weight="bold" font-size="8.4" fill="#000" textLength="21.5" lengthAdjust="spacingAndGlyphs" >CD80</text>
<text x="223.3" y="222.8" font-family='"Liberation Serif", serif' font-weight="bold" font-size="8.4" fill="#000" textLength="21.4" lengthAdjust="spacingAndGlyphs" >CD86</text>
<text x="293.3" y="223.3" font-family='"Liberation Serif", serif' font-weight="bold" font-size="8.4" fill="#000" textLength="21.5" lengthAdjust="spacingAndGlyphs" >CD40</text>
<path d="M45.2,279.6 V411.3 H192" fill="none" stroke="#000" stroke-width="1"/>
<path d="M45.2,392.5 h3.4 M45.2,373.7 h3.4 M45.2,354.9 h3.4 M45.2,336.1 h3.4 M45.2,317.3 h3.4 M45.2,298.5 h3.4 M45.2,279.7 h3.4 M82.3,411.3 v-2.8 M119,411.3 v-2.8 M155.6,411.3 v-2.8 M192,411.3 v-2.8" stroke="#000" stroke-width="0.9"/>
<text x="35.5" y="414.1" font-family='"Liberation Serif", serif' font-weight="bold" font-size="11" fill="#000" text-anchor="end" >0</text>
<text x="35.5" y="395.3" font-family='"Liberation Serif", serif' font-weight="bold" font-size="11" fill="#000" text-anchor="end" >20</text>
<text x="35.5" y="376.5" font-family='"Liberation Serif", serif' font-weight="bold" font-size="11" fill="#000" text-anchor="end" >40</text>
<text x="35.5" y="357.7" font-family='"Liberation Serif", serif' font-weight="bold" font-size="11" fill="#000" text-anchor="end" >60</text>
<text x="35.5" y="338.9" font-family='"Liberation Serif", serif' font-weight="bold" font-size="11" fill="#000" text-anchor="end" >80</text>
<text x="35.5" y="320.1" font-family='"Liberation Serif", serif' font-weight="bold" font-size="11" fill="#000" text-anchor="end" >100</text>
<text x="35.5" y="301.3" font-family='"Liberation Serif", serif' font-weight="bold" font-size="11" fill="#000" text-anchor="end" >120</text>
<text x="35.5" y="282.5" font-family='"Liberation Serif", serif' font-weight="bold" font-size="11" fill="#000" text-anchor="end" >140</text>
<text x="63.3" y="430.9" font-family='"Liberation Serif", serif' font-weight="bold" font-size="10.6" fill="#000" text-anchor="middle" textLength="21.2" lengthAdjust="spacingAndGlyphs" >1:50</text>
<text x="100.9" y="430.9" font-family='"Liberation Serif", serif' font-weight="bold" font-size="10.6" fill="#000" text-anchor="middle" textLength="21.5" lengthAdjust="spacingAndGlyphs" >1:30</text>
<text x="136.8" y="430.9" font-family='"Liberation Serif", serif' font-weight="bold" font-size="10.6" fill="#000" text-anchor="middle" textLength="20.8" lengthAdjust="spacingAndGlyphs" >1:10</text>
<text x="173.5" y="430.9" font-family='"Liberation Serif", serif' font-weight="bold" font-size="10.6" fill="#000" text-anchor="middle" textLength="14.8" lengthAdjust="spacingAndGlyphs" >1:1</text>
<text transform="translate(13.7 431.4) rotate(-90)" font-family='"Liberation Serif", serif' font-weight="bold" font-size="11" textLength="8.6" lengthAdjust="spacingAndGlyphs">[H</text>
<text transform="translate(4.9 421) rotate(-90)" font-family='"Liberation Serif", serif' font-weight="bold" font-size="5.2" textLength="3.2" lengthAdjust="spacingAndGlyphs">3</text>
<text transform="translate(13.7 419.2) rotate(-90)" font-family='"Liberation Serif", serif' font-weight="bold" font-size="11" textLength="106.6" lengthAdjust="spacingAndGlyphs">]-TdR incorporation (</text>
<text transform="translate(13.7 310.7) rotate(-90)" font-family='"Liberation Serif", serif' font-weight="bold" font-size="11" textLength="8.8" lengthAdjust="spacingAndGlyphs">10</text>
<text transform="translate(4.9 303.6) rotate(-90)" font-family='"Liberation Serif", serif' font-weight="bold" font-size="5.2" textLength="3.4" lengthAdjust="spacingAndGlyphs">3</text>
<text transform="translate(13.7 297.6) rotate(-90)" font-family='"Liberation Serif", serif' font-weight="bold" font-size="11" textLength="25.4" lengthAdjust="spacingAndGlyphs">cpm)</text>
<polyline points="63.6,373.42 100.3,347.1 137,328.11 173.9,302.07" fill="none" stroke="#000" stroke-width="1"/>
<path d="M63.6,369.85 V376.99 M61.3,369.85 h4.6 M61.3,376.99 h4.6" stroke="#000" stroke-width="0.9" fill="none"/>
<path d="M100.3,343.53 V350.67 M98,343.53 h4.6 M98,350.67 h4.6" stroke="#000" stroke-width="0.9" fill="none"/>
<path d="M137,322.47 V333.75 M134.7,322.47 h4.6 M134.7,333.75 h4.6" stroke="#000" stroke-width="0.9" fill="none"/>
<path d="M173.9,295.96 V308.18 M171.6,295.96 h4.6 M171.6,308.18 h4.6" stroke="#000" stroke-width="0.9" fill="none"/>
<polyline points="63.6,399.08 100.3,391.56 137,376.71 173.9,372.76" fill="none" stroke="#000" stroke-width="1"/>
<path d="M63.6,397.2 V400.96 M61.3,397.2 h4.6 M61.3,400.96 h4.6" stroke="#000" stroke-width="0.9" fill="none"/>
<path d="M100.3,389.21 V393.91 M98,389.21 h4.6 M98,393.91 h4.6" stroke="#000" stroke-width="0.9" fill="none"/>
<path d="M137,373.42 V380 M134.7,373.42 h4.6 M134.7,380 h4.6" stroke="#000" stroke-width="0.9" fill="none"/>
<path d="M173.9,363.36 V382.16 M171.6,363.36 h4.6 M171.6,382.16 h4.6" stroke="#000" stroke-width="0.9" fill="none"/>
<polyline points="63.6,402.84 100.3,396.26 137,382.16 173.9,374.17" fill="none" stroke="#000" stroke-width="1"/>
<path d="M63.6,401.43 V404.25 M61.3,401.43 h4.6 M61.3,404.25 h4.6" stroke="#000" stroke-width="0.9" fill="none"/>
<path d="M100.3,394.38 V398.14 M98,394.38 h4.6 M98,398.14 h4.6" stroke="#000" stroke-width="0.9" fill="none"/>
<path d="M137,379.34 V384.98 M134.7,379.34 h4.6 M134.7,384.98 h4.6" stroke="#000" stroke-width="0.9" fill="none"/>
<path d="M173.9,370.41 V377.93 M171.6,370.41 h4.6 M171.6,377.93 h4.6" stroke="#000" stroke-width="0.9" fill="none"/>
<polyline points="63.6,404.34 100.3,401.9 137,393.44 173.9,383.38" fill="none" stroke="#000" stroke-width="1"/>
<path d="M63.6,402.93 V405.75 M61.3,402.93 h4.6 M61.3,405.75 h4.6" stroke="#000" stroke-width="0.9" fill="none"/>
<path d="M100.3,400.02 V403.78 M98,400.02 h4.6 M98,403.78 h4.6" stroke="#000" stroke-width="0.9" fill="none"/>
<path d="M137,389.68 V397.2 M134.7,389.68 h4.6 M134.7,397.2 h4.6" stroke="#000" stroke-width="0.9" fill="none"/>
<path d="M173.9,376.8 V389.96 M171.6,376.8 h4.6 M171.6,389.96 h4.6" stroke="#000" stroke-width="0.9" fill="none"/>
<circle cx="63.6" cy="404.34" r="2" fill="#fff" stroke="#000" stroke-width="1"/>
<circle cx="100.3" cy="401.9" r="2" fill="#fff" stroke="#000" stroke-width="1"/>
<circle cx="137" cy="393.44" r="2" fill="#fff" stroke="#000" stroke-width="1"/>
<circle cx="173.9" cy="383.38" r="2" fill="#fff" stroke="#000" stroke-width="1"/>
<rect x="61.4" y="400.64" width="4.4" height="4.4" fill="#000"/>
<rect x="98.1" y="394.06" width="4.4" height="4.4" fill="#000"/>
<rect x="134.8" y="379.96" width="4.4" height="4.4" fill="#000"/>
<rect x="171.7" y="371.97" width="4.4" height="4.4" fill="#000"/>
<path d="M63.6,396.28 L66.1,400.88 L61.1,400.88 Z" fill="#fff" stroke="#000" stroke-width="1"/>
<path d="M100.3,388.76 L102.8,393.36 L97.8,393.36 Z" fill="#fff" stroke="#000" stroke-width="1"/>
<path d="M137,373.91 L139.5,378.51 L134.5,378.51 Z" fill="#fff" stroke="#000" stroke-width="1"/>
<path d="M173.9,369.96 L176.4,374.56 L171.4,374.56 Z" fill="#fff" stroke="#000" stroke-width="1"/>
<circle cx="63.6" cy="373.42" r="2.3" fill="#000"/>
<circle cx="100.3" cy="347.1" r="2.3" fill="#000"/>
<circle cx="137" cy="328.11" r="2.3" fill="#000"/>
<circle cx="173.9" cy="302.07" r="2.3" fill="#000"/>
<line x1="60.4" y1="280" x2="79.6" y2="280" stroke="#000" stroke-width="1"/>
<rect x="67.93" y="278.13" width="3.74" height="3.74" fill="#000"/>
<text x="82.4" y="282.9" font-family='"Liberation Serif", serif' font-weight="bold" font-size="8.3" fill="#000" textLength="10.3" lengthAdjust="spacingAndGlyphs" >DC</text>
<line x1="60.4" y1="294.8" x2="79.6" y2="294.8" stroke="#000" stroke-width="1"/>
<circle cx="69.8" cy="294.8" r="1.7" fill="#fff" stroke="#000" stroke-width="1"/>
<text x="82.4" y="297.7" font-family='"Liberation Serif", serif' font-weight="bold" font-size="8.3" fill="#000" textLength="30.8" lengthAdjust="spacingAndGlyphs" >DC-CsA</text>
<line x1="60.4" y1="309.2" x2="79.6" y2="309.2" stroke="#000" stroke-width="1"/>
<circle cx="69.8" cy="309.2" r="1.95" fill="#000"/>
<text x="82.4" y="312.1" font-family='"Liberation Serif", serif' font-weight="bold" font-size="8.3" fill="#000" textLength="29.8" lengthAdjust="spacingAndGlyphs" >DC-LPS</text>
<line x1="60.4" y1="324" x2="79.6" y2="324" stroke="#000" stroke-width="1"/>
<path d="M69.8,321.62 L71.92,325.53 L67.67,325.53 Z" fill="#fff" stroke="#000" stroke-width="1"/>
<text x="82.4" y="326.9" font-family='"Liberation Serif", serif' font-weight="bold" font-size="8.3" fill="#000" textLength="48.8" lengthAdjust="spacingAndGlyphs" >DC-CsA/LPS</text>
<text x="384.1" y="58.2" font-family='"Liberation Serif", serif' font-weight="bold" font-size="7.2" fill="#000" textLength="10.6" lengthAdjust="spacingAndGlyphs" >DC</text>
<text x="396.8" y="53" font-family='"Liberation Serif", serif' font-weight="bold" font-size="7.4" fill="#000" textLength="42.2" lengthAdjust="spacingAndGlyphs" >LPS (ng/mL)</text>
<text x="445.8" y="52.3" font-family='"Liberation Serif", serif' font-weight="bold" font-size="7.4" fill="#000" textLength="43" lengthAdjust="spacingAndGlyphs" >CsA (ng/mL)</text>
<path d="M395.6,54.4 H440 M444.8,54.0 H489.4 M395.6,79.8 H440 M444.8,79.6 H489.4" stroke="#000" stroke-width="1"/>
<text transform="translate(403.5 76.0) rotate(-90)" font-family='"Liberation Serif", serif' font-weight="bold" font-size="8.3" textLength="8.0" lengthAdjust="spacingAndGlyphs">10</text>
<text transform="translate(414.2 76.0) rotate(-90)" font-family='"Liberation Serif", serif' font-weight="bold" font-size="8.3" textLength="12.0" lengthAdjust="spacingAndGlyphs">100</text>
<text transform="translate(425.5 76.0) rotate(-90)" font-family='"Liberation Serif", serif' font-weight="bold" font-size="8.3" textLength="12.0" lengthAdjust="spacingAndGlyphs">500</text>
<text transform="translate(436.7 76.0) rotate(-90)" font-family='"Liberation Serif", serif' font-weight="bold" font-size="8.3" textLength="16.0" lengthAdjust="spacingAndGlyphs">1000</text>
<text transform="translate(454 76.0) rotate(-90)" font-family='"Liberation Serif", serif' font-weight="bold" font-size="8.3" textLength="8.0" lengthAdjust="spacingAndGlyphs">10</text>
<text transform="translate(464.7 76.0) rotate(-90)" font-family='"Liberation Serif", serif' font-weight="bold" font-size="8.3" textLength="12.0" lengthAdjust="spacingAndGlyphs">100</text>
<text transform="translate(476.5 76.0) rotate(-90)" font-family='"Liberation Serif", serif' font-weight="bold" font-size="8.3" textLength="12.0" lengthAdjust="spacingAndGlyphs">500</text>
<text transform="translate(488.6 76.0) rotate(-90)" font-family='"Liberation Serif", serif' font-weight="bold" font-size="8.3" textLength="16.0" lengthAdjust="spacingAndGlyphs">1000</text>
<text transform="translate(499.4 74) rotate(-90)" font-family='"Liberation Serif", serif' font-weight="bold" font-size="7.5" textLength="70.5" lengthAdjust="spacingAndGlyphs">CsA/LPS (100 ng/mL)</text>
<text transform="translate(513.4 74) rotate(-90)" font-family='"Liberation Serif", serif' font-weight="bold" font-size="7.5" textLength="73.5" lengthAdjust="spacingAndGlyphs">CsA/LPS (1000 ng/mL)</text>
<path d="M385.6,87.8 V188.6 H515.5" fill="none" stroke="#000" stroke-width="1"/>
<path d="M385.6,174.2 h2.2 M385.6,159.8 h2.2 M385.6,145.4 h2.2 M385.6,131 h2.2 M385.6,116.6 h2.2 M385.6,102.2 h2.2 M385.6,87.8 h2.2 M397.38,188.6 v-2.2 M409.12,188.6 v-2.2 M420.88,188.6 v-2.2 M432.62,188.6 v-2.2 M444.38,188.6 v-2.2 M456.12,188.6 v-2.2 M467.88,188.6 v-2.2 M479.62,188.6 v-2.2 M491.38,188.6 v-2.2 M503.12,188.6 v-2.2 M514.88,188.6 v-2.2" stroke="#000" stroke-width="0.9"/>
<text x="377.3" y="191.6" font-family='"Liberation Serif", serif' font-weight="bold" font-size="8.9" fill="#000" text-anchor="end" textLength="4.8" lengthAdjust="spacingAndGlyphs" >0</text>
<text x="377.3" y="177.2" font-family='"Liberation Serif", serif' font-weight="bold" font-size="8.9" fill="#000" text-anchor="end" textLength="13.6" lengthAdjust="spacingAndGlyphs" >200</text>
<text x="377.3" y="162.8" font-family='"Liberation Serif", serif' font-weight="bold" font-size="8.9" fill="#000" text-anchor="end" textLength="13.6" lengthAdjust="spacingAndGlyphs" >400</text>
<text x="377.3" y="148.4" font-family='"Liberation Serif", serif' font-weight="bold" font-size="8.9" fill="#000" text-anchor="end" textLength="13.6" lengthAdjust="spacingAndGlyphs" >600</text>
<text x="377.3" y="134" font-family='"Liberation Serif", serif' font-weight="bold" font-size="8.9" fill="#000" text-anchor="end" textLength="13.6" lengthAdjust="spacingAndGlyphs" >800</text>
<text x="377.3" y="119.6" font-family='"Liberation Serif", serif' font-weight="bold" font-size="8.9" fill="#000" text-anchor="end" textLength="18" lengthAdjust="spacingAndGlyphs" >1000</text>
<text x="377.3" y="105.2" font-family='"Liberation Serif", serif' font-weight="bold" font-size="8.9" fill="#000" text-anchor="end" textLength="18" lengthAdjust="spacingAndGlyphs" >1200</text>
<text x="377.3" y="90.8" font-family='"Liberation Serif", serif' font-weight="bold" font-size="8.9" fill="#000" text-anchor="end" textLength="18" lengthAdjust="spacingAndGlyphs" >1400</text>
<rect x="388.7" y="178.81" width="6.0" height="9.79" fill="#000"/>
<rect x="400.45" y="169.88" width="6.0" height="18.72" fill="#000"/>
<path d="M403.25,169.88 V167.72 M400.85,167.72 h4.8" stroke="#000" stroke-width="1" fill="none"/>
<rect x="412.2" y="139.14" width="6.0" height="49.46" fill="#000"/>
<path d="M415,139.14 V134.53 M412.6,134.53 h4.8" stroke="#000" stroke-width="1" fill="none"/>
<rect x="423.95" y="115.38" width="6.0" height="73.22" fill="#000"/>
<path d="M426.75,115.38 V108.39 M424.35,108.39 h4.8" stroke="#000" stroke-width="1" fill="none"/>
<rect x="435.7" y="108.03" width="6.0" height="80.57" fill="#000"/>
<path d="M438.5,108.03 V100.4 M436.1,100.4 h4.8" stroke="#000" stroke-width="1" fill="none"/>
<rect x="447.45" y="178.81" width="6.0" height="9.79" fill="#000"/>
<rect x="459.2" y="179.38" width="6.0" height="9.22" fill="#000"/>
<rect x="470.95" y="180.18" width="6.0" height="8.42" fill="#000"/>
<rect x="482.7" y="180.18" width="6.0" height="8.42" fill="#000"/>
<rect x="494.45" y="168.15" width="6.0" height="20.45" fill="#000"/>
<path d="M497.25,168.15 V166.42 M494.85,166.42 h4.8" stroke="#000" stroke-width="1" fill="none"/>
<rect x="506.2" y="150.44" width="6.0" height="38.16" fill="#000"/>
<path d="M509,150.44 V146.48 M506.6,146.48 h4.8" stroke="#000" stroke-width="1" fill="none"/>
<text transform="translate(352.7 164.3) rotate(-90)" font-family='"Liberation Serif", serif' font-weight="bold" font-size="8.2" textLength="57.9" lengthAdjust="spacingAndGlyphs">TNF-α (pg/mL)</text>
<path d="M388.7,216 V315.3 H518.8" fill="none" stroke="#000" stroke-width="1"/>
<path d="M388.7,298.75 h2.2 M388.7,282.2 h2.2 M388.7,265.65 h2.2 M388.7,249.1 h2.2 M388.7,232.55 h2.2 M388.7,216 h2.2 M399.92,315.3 v-2.2 M411.75,315.3 v-2.2 M423.57,315.3 v-2.2 M435.4,315.3 v-2.2 M447.24,315.3 v-2.2 M459.06,315.3 v-2.2 M470.89,315.3 v-2.2 M482.73,315.3 v-2.2 M494.56,315.3 v-2.2 M506.38,315.3 v-2.2 M518.22,315.3 v-2.2" stroke="#000" stroke-width="0.9"/>
<text x="381.4" y="318.3" font-family='"Liberation Serif", serif' font-weight="bold" font-size="8.9" fill="#000" text-anchor="end" textLength="4.8" lengthAdjust="spacingAndGlyphs" >0</text>
<text x="381.4" y="301.75" font-family='"Liberation Serif", serif' font-weight="bold" font-size="8.9" fill="#000" text-anchor="end" textLength="9.2" lengthAdjust="spacingAndGlyphs" >50</text>
<text x="381.4" y="285.2" font-family='"Liberation Serif", serif' font-weight="bold" font-size="8.9" fill="#000" text-anchor="end" textLength="13.6" lengthAdjust="spacingAndGlyphs" >100</text>
<text x="381.4" y="268.65" font-family='"Liberation Serif", serif' font-weight="bold" font-size="8.9" fill="#000" text-anchor="end" textLength="13.6" lengthAdjust="spacingAndGlyphs" >150</text>
<text x="381.4" y="252.1" font-family='"Liberation Serif", serif' font-weight="bold" font-size="8.9" fill="#000" text-anchor="end" textLength="13.6" lengthAdjust="spacingAndGlyphs" >200</text>
<text x="381.4" y="235.55" font-family='"Liberation Serif", serif' font-weight="bold" font-size="8.9" fill="#000" text-anchor="end" textLength="13.6" lengthAdjust="spacingAndGlyphs" >250</text>
<text x="381.4" y="219" font-family='"Liberation Serif", serif' font-weight="bold" font-size="8.9" fill="#000" text-anchor="end" textLength="13.6" lengthAdjust="spacingAndGlyphs" >300</text>
<rect x="391.2" y="302.39" width="6.0" height="12.91" fill="#000"/>
<path d="M394,302.39 V301.07 M391.6,301.07 h4.8" stroke="#000" stroke-width="1" fill="none"/>
<rect x="403.03" y="299.74" width="6.0" height="15.56" fill="#000"/>
<rect x="414.86" y="272.27" width="6.0" height="43.03" fill="#000"/>
<path d="M417.66,272.27 V268.3 M415.26,268.3 h4.8" stroke="#000" stroke-width="1" fill="none"/>
<rect x="426.69" y="249.1" width="6.0" height="66.2" fill="#000"/>
<path d="M429.49,249.1 V243.14 M427.09,243.14 h4.8" stroke="#000" stroke-width="1" fill="none"/>
<rect x="438.52" y="239.83" width="6.0" height="75.47" fill="#000"/>
<path d="M441.32,239.83 V233.21 M438.92,233.21 h4.8" stroke="#000" stroke-width="1" fill="none"/>
<rect x="450.35" y="301.73" width="6.0" height="13.57" fill="#000"/>
<rect x="462.18" y="302.06" width="6.0" height="13.24" fill="#000"/>
<rect x="474.01" y="302.39" width="6.0" height="12.91" fill="#000"/>
<rect x="485.84" y="302.39" width="6.0" height="12.91" fill="#000"/>
<rect x="497.67" y="289.81" width="6.0" height="25.49" fill="#000"/>
<path d="M500.47,289.81 V287.5 M498.07,287.5 h4.8" stroke="#000" stroke-width="1" fill="none"/>
<rect x="509.5" y="275.91" width="6.0" height="39.39" fill="#000"/>
<path d="M512.3,275.91 V272.27 M509.9,272.27 h4.8" stroke="#000" stroke-width="1" fill="none"/>
<text transform="translate(361.8 296) rotate(-90)" font-family='"Liberation Serif", serif' font-weight="bold" font-size="8.2" textLength="65.1" lengthAdjust="spacingAndGlyphs">IL-12 p70 (pg/mL)</text>
<path d="M386.9,351 V451.2 H517.5" fill="none" stroke="#000" stroke-width="1"/>
<path d="M386.9,438.68 h2.2 M386.9,426.15 h2.2 M386.9,413.62 h2.2 M386.9,401.1 h2.2 M386.9,388.57 h2.2 M386.9,376.05 h2.2 M386.9,363.52 h2.2 M386.9,351 h2.2 M398.48,451.2 v-2.2 M410.23,451.2 v-2.2 M421.98,451.2 v-2.2 M433.73,451.2 v-2.2 M445.48,451.2 v-2.2 M457.23,451.2 v-2.2 M468.98,451.2 v-2.2 M480.73,451.2 v-2.2 M492.48,451.2 v-2.2 M504.23,451.2 v-2.2 M515.98,451.2 v-2.2" stroke="#000" stroke-width="0.9"/>
<text x="379.2" y="454.2" font-family='"Liberation Serif", serif' font-weight="bold" font-size="8.9" fill="#000" text-anchor="end" textLength="4.8" lengthAdjust="spacingAndGlyphs" >0</text>
<text x="379.2" y="441.68" font-family='"Liberation Serif", serif' font-weight="bold" font-size="8.9" fill="#000" text-anchor="end" textLength="9.2" lengthAdjust="spacingAndGlyphs" >20</text>
<text x="379.2" y="429.15" font-family='"Liberation Serif", serif' font-weight="bold" font-size="8.9" fill="#000" text-anchor="end" textLength="9.2" lengthAdjust="spacingAndGlyphs" >40</text>
<text x="379.2" y="416.62" font-family='"Liberation Serif", serif' font-weight="bold" font-size="8.9" fill="#000" text-anchor="end" textLength="9.2" lengthAdjust="spacingAndGlyphs" >60</text>
<text x="379.2" y="404.1" font-family='"Liberation Serif", serif' font-weight="bold" font-size="8.9" fill="#000" text-anchor="end" textLength="9.2" lengthAdjust="spacingAndGlyphs" >80</text>
<text x="379.2" y="391.57" font-family='"Liberation Serif", serif' font-weight="bold" font-size="8.9" fill="#000" text-anchor="end" textLength="13.6" lengthAdjust="spacingAndGlyphs" >100</text>
<text x="379.2" y="379.05" font-family='"Liberation Serif", serif' font-weight="bold" font-size="8.9" fill="#000" text-anchor="end" textLength="13.6" lengthAdjust="spacingAndGlyphs" >120</text>
<text x="379.2" y="366.52" font-family='"Liberation Serif", serif' font-weight="bold" font-size="8.9" fill="#000" text-anchor="end" textLength="13.6" lengthAdjust="spacingAndGlyphs" >140</text>
<text x="379.2" y="354" font-family='"Liberation Serif", serif' font-weight="bold" font-size="8.9" fill="#000" text-anchor="end" textLength="13.6" lengthAdjust="spacingAndGlyphs" >160</text>
<rect x="389.8" y="437.8" width="6.0" height="13.4" fill="#000"/>
<path d="M392.6,437.8 V436.3 M390.2,436.3 h4.8" stroke="#000" stroke-width="1" fill="none"/>
<rect x="401.55" y="433.66" width="6.0" height="17.54" fill="#000"/>
<rect x="413.3" y="411.12" width="6.0" height="40.08" fill="#000"/>
<path d="M416.1,411.12 V406.74 M413.7,406.74 h4.8" stroke="#000" stroke-width="1" fill="none"/>
<rect x="425.05" y="389.83" width="6.0" height="61.37" fill="#000"/>
<path d="M427.85,389.83 V383.56 M425.45,383.56 h4.8" stroke="#000" stroke-width="1" fill="none"/>
<rect x="436.8" y="386.07" width="6.0" height="65.13" fill="#000"/>
<path d="M439.6,386.07 V379.81 M437.2,379.81 h4.8" stroke="#000" stroke-width="1" fill="none"/>
<rect x="448.55" y="428.09" width="6.0" height="23.11" fill="#000"/>
<path d="M451.35,428.09 V426.21 M448.95,426.21 h4.8" stroke="#000" stroke-width="1" fill="none"/>
<rect x="460.3" y="419.26" width="6.0" height="31.94" fill="#000"/>
<path d="M463.1,419.26 V416.44 M460.7,416.44 h4.8" stroke="#000" stroke-width="1" fill="none"/>
<rect x="472.05" y="406.99" width="6.0" height="44.21" fill="#000"/>
<path d="M474.85,406.99 V403.23 M472.45,403.23 h4.8" stroke="#000" stroke-width="1" fill="none"/>
<rect x="483.8" y="403.1" width="6.0" height="48.1" fill="#000"/>
<path d="M486.6,403.1 V398.72 M484.2,398.72 h4.8" stroke="#000" stroke-width="1" fill="none"/>
<rect x="495.55" y="364.15" width="6.0" height="87.05" fill="#000"/>
<path d="M498.35,364.15 V356.32 M495.95,356.32 h4.8" stroke="#000" stroke-width="1" fill="none"/>
<rect x="507.3" y="370.16" width="6.0" height="81.04" fill="#000"/>
<path d="M510.1,370.16 V361.4 M507.7,361.4 h4.8" stroke="#000" stroke-width="1" fill="none"/>
<text transform="translate(359.5 423.2) rotate(-90)" font-family='"Liberation Serif", serif' font-weight="bold" font-size="8.2" textLength="50.9" lengthAdjust="spacingAndGlyphs">IL-10 (pg/mL)</text>
</svg>
</body></html>
